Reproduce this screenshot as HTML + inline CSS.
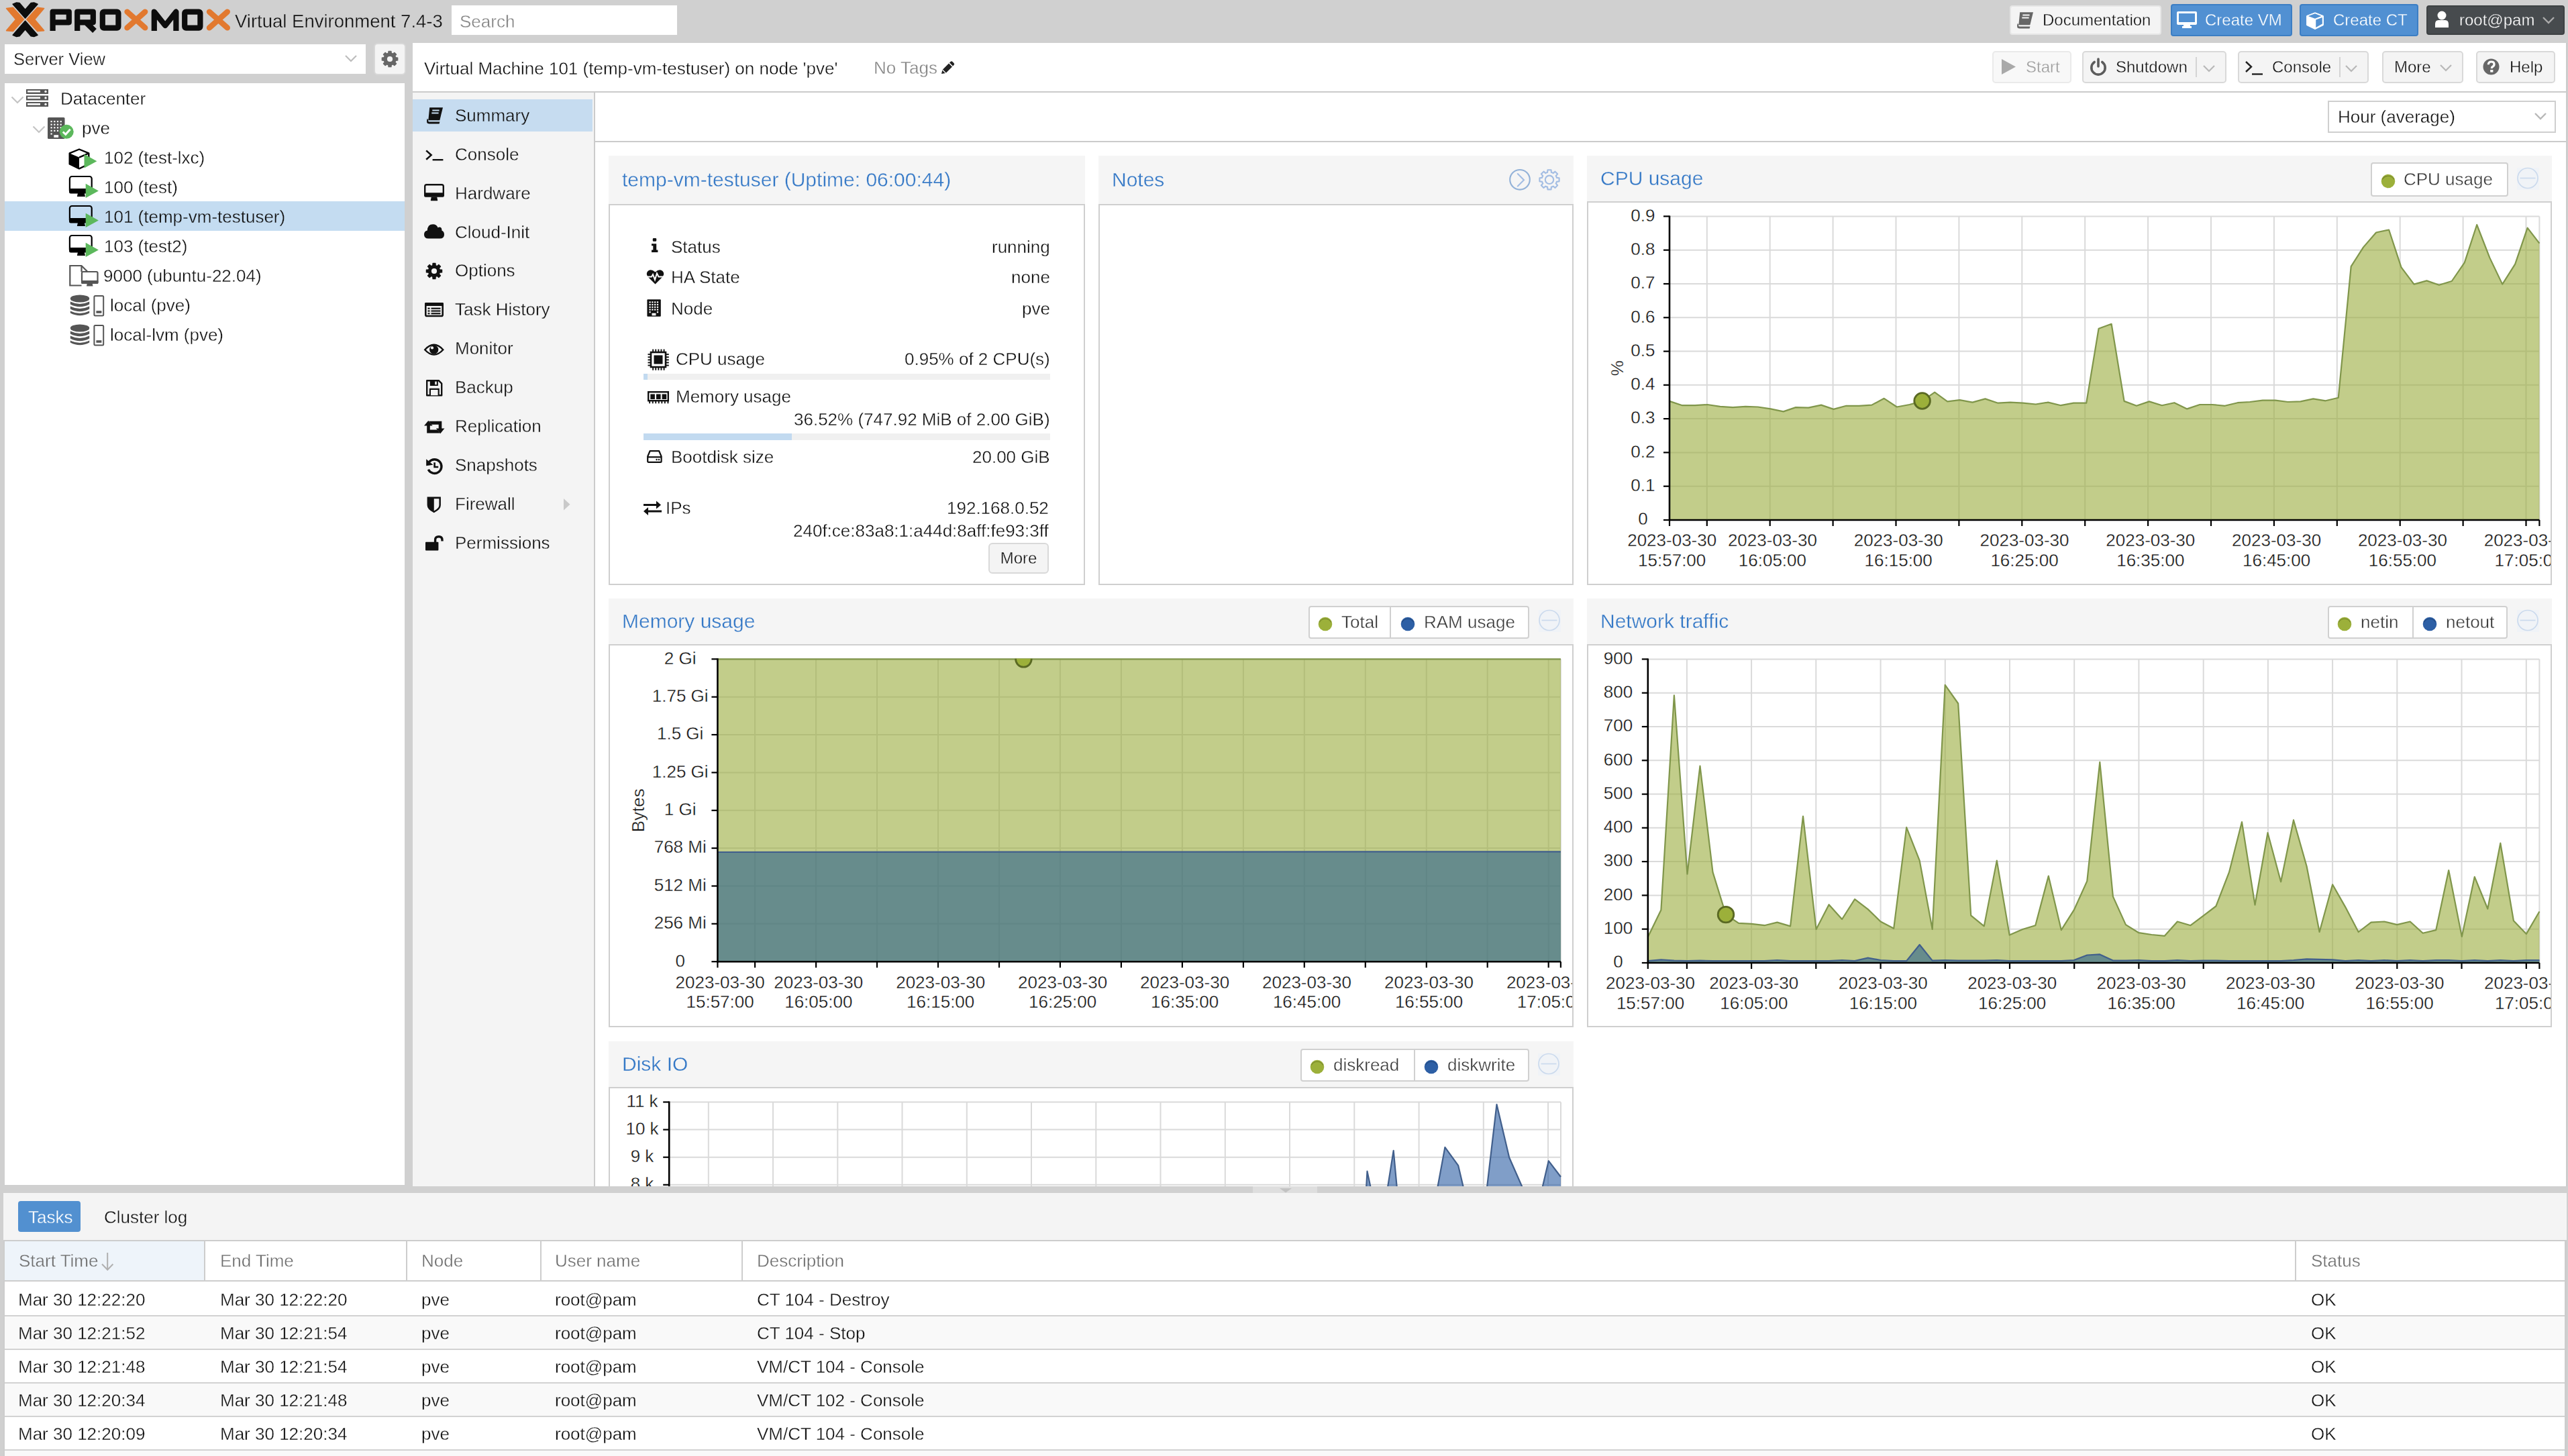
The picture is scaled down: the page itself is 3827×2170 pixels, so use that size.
<!DOCTYPE html><html><head><meta charset="utf-8"><title>Proxmox VE</title><style>
html,body{margin:0;padding:0}
body{width:3827px;height:2170px;overflow:hidden;position:relative;background:#d0d0d0;font-family:"Liberation Sans",sans-serif;font-size:26px;color:#000}
.a{position:absolute;box-sizing:border-box}
.t{position:absolute;white-space:nowrap;will-change:transform}
svg.a{overflow:visible}
</style></head><body>
<svg class="a" style="left:0px;top:0px;" width="350" height="62" viewBox="0 0 350 62">
<g stroke-linejoin="round" stroke-width="1.6">
<polygon points="9.6,12.6 19.4,11.4 35.3,28.9 19.4,46.5 9.6,45.6 23.6,29" fill="#e2792f" stroke="#e2792f"/>
<polygon points="65.6,12.6 55.8,11.4 39.9,28.9 55.8,46.5 65.6,45.6 51.6,29" fill="#e2792f" stroke="#e2792f"/>
<polygon points="19.2,6.2 24.6,4 29,4.6 37.6,14.6 46.2,4.6 50.6,4 56,6.2 37.6,27" fill="#0d0d0d" stroke="#0d0d0d"/>
<polygon points="19.2,52.2 24.6,54.4 29,53.8 37.6,43.8 46.2,53.8 50.6,54.4 56,52.2 37.6,31.4" fill="#0d0d0d" stroke="#0d0d0d"/>
</g>
<g fill="none" stroke="#0d0d0d" stroke-width="8.2" stroke-linejoin="round">
<path d="M78.6,46 V17.6 H102.8 V33.3 H78.6"/>
<path d="M115.2,46 V17.6 H138.8 V33.3 H115.2 M128,33.3 L141,46"/>
<rect x="152.8" y="17.6" width="23.6" height="24" rx="2"/>
<path d="M229.8,46 V17.6 L246.2,38 L262.4,17.6 V46"/>
<rect x="275.2" y="17.6" width="23.2" height="24" rx="2"/>
</g>
<g fill="none" stroke="#e2792f" stroke-width="8.4" stroke-linecap="round">
<path d="M189.5,17.6 L216.2,41.4 M216.2,17.6 L189.5,41.4"/>
<path d="M312,17.6 L338.8,41.4 M338.8,17.6 L312,41.4"/>
</g>
</svg>
<div class="t" style="left:350px;top:17.7px;font-size:27.5px;line-height:27.5px;color:#111;-webkit-text-stroke:0.35px #d0d0d0;">Virtual Environment 7.4-3</div>
<div class="a" style="left:673px;top:8px;width:336px;height:44px;background:#fff"></div>
<div class="t" style="left:685px;top:19.0px;font-size:26px;line-height:26px;color:#858585;-webkit-text-stroke:0.35px #fff;">Search</div>
<div class="a" style="left:2995px;top:8px;width:226px;height:44px;background:#f4f4f4;border:2px solid #e6e6e6;border-radius:4px"></div>
<svg class="a" style="left:3003.5px;top:17.5px;" width="27" height="25" viewBox="0 0 27 25"><path d="M6.2,0.3 H26 L21.3,19.2 H4.3 Z" fill="#666"/><path d="M2.7,16.8 Q0.3,24.6 5.7,24.6 H20.6 L21.4,21.6 H5.8 Q3.6,21.6 4.3,18.6 Z" fill="#666"/><path d="M10.3,4.6 H20.6 M9.3,8.6 H19.6" stroke="#f4f4f4" stroke-width="2"/></svg>
<div class="t" style="left:3044px;top:17.7px;font-size:24px;line-height:24px;color:#111;-webkit-text-stroke:0.35px #f4f4f4;">Documentation</div>
<div class="a" style="left:3235px;top:6px;width:181px;height:48px;background:#5190d2;border:2px solid #3c7ec4;border-radius:4px"></div>
<svg class="a" style="left:3243px;top:15px;" width="32" height="28" viewBox="0 0 32 28"><path d="M3,2 H29 Q31,2 31,4 V20 Q31,22 29,22 H3 Q1,22 1,20 V4 Q1,2 3,2 Z M4,5 V18 H28 V5 Z" fill="#fff"/>
<rect x="11" y="22" width="10" height="3" fill="#fff"/><rect x="9" y="24" width="14" height="3" fill="#fff"/></svg>
<div class="t" style="left:3286px;top:17.7px;font-size:24px;line-height:24px;color:#fff;-webkit-text-stroke:0.35px #5190d2;">Create VM</div>
<div class="a" style="left:3427px;top:6px;width:177px;height:48px;background:#5190d2;border:2px solid #3c7ec4;border-radius:4px"></div>
<svg class="a" style="left:3437px;top:18px;" width="27" height="27" viewBox="0 0 27 27"><path d="M13,0.8 L25.4,5.6 V19.6 L13,25.6 L0.6,19.6 V5.6 Z" fill="#fff" stroke="#fff" stroke-width="1" stroke-linejoin="round"/><path d="M2.8,6 L13,2.25 L22.3,6 L13,9.75 Z" fill="#5190d2"/><path d="M14.25,11.5 L23.7,8.1 L23.9,17.6 L14.25,23 Z" fill="#5190d2"/></svg>
<div class="t" style="left:3477px;top:17.7px;font-size:24px;line-height:24px;color:#fff;-webkit-text-stroke:0.35px #5190d2;">Create CT</div>
<div class="a" style="left:3616px;top:8px;width:206px;height:44px;background:#474b4e;border:2px solid #3d4143;border-radius:4px"></div>
<svg class="a" style="left:3628px;top:15px;" width="24" height="28" viewBox="0 0 24 28"><circle cx="11" cy="8" r="6.5" fill="#fff"/><path d="M1,26 V21 Q1,15 6,15 H16 Q21,15 21,21 V26 Z" fill="#fff"/></svg>
<div class="t" style="left:3665px;top:17.7px;font-size:24px;line-height:24px;color:#fff;-webkit-text-stroke:0.35px #474b4e;">root@pam</div>
<svg class="a" style="left:3788px;top:24px;" width="20" height="12" viewBox="0 0 20 12"><path d="M2,2 L10,10 L18,2" stroke="#aaa" stroke-width="2.4" fill="none"/></svg>
<div class="a" style="left:7px;top:66px;width:538px;height:44px;background:#fff"></div>
<div class="t" style="left:20px;top:76.4px;font-size:25.5px;line-height:25.5px;color:#111;-webkit-text-stroke:0.35px #fff;">Server View</div>
<svg class="a" style="left:513px;top:81px;" width="20" height="13" viewBox="0 0 20 13"><path d="M2,2 L10,10 L18,2" stroke="#bdbdbd" stroke-width="2.2" fill="none"/></svg>
<div class="a" style="left:557px;top:64px;width:48px;height:48px;background:#f4f4f4;border:2px solid #d8d8d8;border-radius:6px"></div>
<svg class="a" style="left:559px;top:65px;" width="44" height="45" viewBox="0 0 44 45"><polygon points="19.62,14.42 20.04,11.26 23.96,11.26 24.38,14.42 25.47,14.61 26.38,15.25 28.91,13.31 31.69,16.09 29.75,18.62 30.39,19.53 30.58,20.62 33.74,21.04 33.74,24.96 30.58,25.38 30.39,26.47 29.75,27.38 31.69,29.91 28.91,32.69 26.38,30.75 25.47,31.39 24.38,31.58 23.96,34.74 20.04,34.74 19.62,31.58 18.53,31.39 17.62,30.75 15.09,32.69 12.31,29.91 14.25,27.38 13.61,26.47 13.42,25.38 10.26,24.96 10.26,21.04 13.42,20.62 13.61,19.53 14.25,18.62 12.31,16.09 15.09,13.31 17.62,15.25 18.53,14.61" fill="#666" stroke="#666" stroke-width="1.2" stroke-linejoin="round"/><circle cx="22" cy="23" r="4.1" fill="#f4f4f4"/></svg>
<div class="a" style="left:7px;top:124px;width:596px;height:1642px;background:#fff"></div>
<div class="a" style="left:7px;top:300px;width:596px;height:44px;background:#c4dcf1"></div>
<svg class="a" style="left:16px;top:143px;" width="20" height="12" viewBox="0 0 20 12"><path d="M1.5,1.5 L10,10 L18.5,1.5" stroke="#c4c4c4" stroke-width="2.2" fill="none"/></svg>
<svg class="a" style="left:39px;top:133px;" width="34" height="27" viewBox="0 0 34 27"><g fill="#555"><rect x="0" y="0" width="33" height="7"/><rect x="0" y="9.5" width="33" height="7"/><rect x="0" y="19" width="33" height="7"/></g>
<g fill="#fff"><rect x="2" y="2" width="19" height="2.6"/><rect x="2" y="11.5" width="19" height="2.6"/><rect x="2" y="21" width="19" height="2.6"/>
<circle cx="29" cy="3.4" r="1.7"/><circle cx="29" cy="12.9" r="1.7"/><circle cx="29" cy="22.4" r="1.7"/></g></svg>
<div class="t" style="left:90px;top:133.6px;font-size:26px;line-height:26px;color:#111;-webkit-text-stroke:0.35px #fff;">Datacenter</div>
<svg class="a" style="left:48px;top:187px;" width="20" height="12" viewBox="0 0 20 12"><path d="M1.5,1.5 L10,10 L18.5,1.5" stroke="#c4c4c4" stroke-width="2.2" fill="none"/></svg>
<svg class="a" style="left:71px;top:175px;" width="40" height="34" viewBox="0 0 40 34"><rect x="0" y="0" width="25.5" height="32" rx="1.5" fill="#555"/><rect x="4.5" y="5.0" width="2.2" height="2.2" fill="#fff"/><rect x="9.2" y="5.0" width="2.2" height="2.2" fill="#fff"/><rect x="13.9" y="5.0" width="2.2" height="2.2" fill="#fff"/><rect x="18.6" y="5.0" width="2.2" height="2.2" fill="#fff"/><rect x="4.5" y="9.6" width="2.2" height="2.2" fill="#fff"/><rect x="9.2" y="9.6" width="2.2" height="2.2" fill="#fff"/><rect x="13.9" y="9.6" width="2.2" height="2.2" fill="#fff"/><rect x="18.6" y="9.6" width="2.2" height="2.2" fill="#fff"/><rect x="4.5" y="14.2" width="2.2" height="2.2" fill="#fff"/><rect x="9.2" y="14.2" width="2.2" height="2.2" fill="#fff"/><rect x="13.9" y="14.2" width="2.2" height="2.2" fill="#fff"/><rect x="18.6" y="14.2" width="2.2" height="2.2" fill="#fff"/><rect x="4.5" y="18.8" width="2.2" height="2.2" fill="#fff"/><rect x="9.2" y="18.8" width="2.2" height="2.2" fill="#fff"/><rect x="13.9" y="18.8" width="2.2" height="2.2" fill="#fff"/><rect x="18.6" y="18.8" width="2.2" height="2.2" fill="#fff"/><rect x="4.5" y="23.4" width="2.2" height="2.2" fill="#fff"/>
<rect x="9.3" y="26.2" width="6.8" height="3.7" fill="#fff"/>
<circle cx="28.2" cy="21.3" r="10.5" fill="#5cb85c"/>
<path d="M22.8,21.5 L26.8,25.3 L33.6,17.8" stroke="#fff" stroke-width="3" fill="none"/></svg>
<div class="t" style="left:122px;top:177.6px;font-size:26px;line-height:26px;color:#111;-webkit-text-stroke:0.35px #fff;">pve</div>
<svg class="a" style="left:102px;top:221px;" width="46" height="32" viewBox="0 0 46 32"><path d="M16,1.5 L30.3,7.4 V23.5 L16,30.3 L1.7,23.5 V7.4 Z" fill="#fff" stroke="#000" stroke-width="2.4" stroke-linejoin="round"/>
<path d="M16,13.6 L1.7,7.4 V23.5 L16,30.3 Z" fill="#000"/>
<path d="M16,13.6 L30.3,7.4" stroke="#000" stroke-width="2.4"/>
<path d="M23.5,8.8 L42.4,19.2 L23.5,29.6 Z" fill="#5cb85c"/></svg>
<div class="t" style="left:155px;top:221.6px;font-size:26px;line-height:26px;color:#111;-webkit-text-stroke:0.35px #fff;">102 (test-lxc)</div>
<svg class="a" style="left:102px;top:262px;" width="46" height="34" viewBox="0 0 46 34"><rect x="1.9" y="1" width="32.8" height="24" rx="3.2" fill="none" stroke="#000" stroke-width="2.2"/>
<rect x="1" y="19" width="34.6" height="7.5" rx="2.5" fill="#000"/>
<path d="M14,26 H23.8 L25,31 H12.8 Z" fill="#000"/>
<path d="M25.7,11.8 L44.9,22.4 L25.7,33 Z" fill="#5cb85c"/></svg>
<div class="t" style="left:155px;top:265.6px;font-size:26px;line-height:26px;color:#111;-webkit-text-stroke:0.35px #fff;">100 (test)</div>
<svg class="a" style="left:102px;top:306px;" width="46" height="34" viewBox="0 0 46 34"><rect x="1.9" y="1" width="32.8" height="24" rx="3.2" fill="none" stroke="#000" stroke-width="2.2"/>
<rect x="1" y="19" width="34.6" height="7.5" rx="2.5" fill="#000"/>
<path d="M14,26 H23.8 L25,31 H12.8 Z" fill="#000"/>
<path d="M25.7,11.8 L44.9,22.4 L25.7,33 Z" fill="#5cb85c"/></svg>
<div class="t" style="left:155px;top:309.6px;font-size:26px;line-height:26px;color:#111;-webkit-text-stroke:0.35px #c4dcf1;">101 (temp-vm-testuser)</div>
<svg class="a" style="left:102px;top:350px;" width="46" height="34" viewBox="0 0 46 34"><rect x="1.9" y="1" width="32.8" height="24" rx="3.2" fill="none" stroke="#000" stroke-width="2.2"/>
<rect x="1" y="19" width="34.6" height="7.5" rx="2.5" fill="#000"/>
<path d="M14,26 H23.8 L25,31 H12.8 Z" fill="#000"/>
<path d="M25.7,11.8 L44.9,22.4 L25.7,33 Z" fill="#5cb85c"/></svg>
<div class="t" style="left:155px;top:353.6px;font-size:26px;line-height:26px;color:#111;-webkit-text-stroke:0.35px #fff;">103 (test2)</div>
<svg class="a" style="left:102px;top:394px;" width="46" height="34" viewBox="0 0 46 34"><path d="M19.5,31.5 H2.3 V2 H19.5 L28,10.5" fill="none" stroke="#555" stroke-width="2.2"/>
<path d="M19.5,2 V11" stroke="#555" stroke-width="2.2"/>
<rect x="20" y="11" width="23.5" height="17" rx="1.8" fill="#fff" stroke="#555" stroke-width="2.2"/>
<rect x="19.2" y="24" width="25.2" height="5" rx="1.2" fill="#555"/>
<path d="M27.6,29 H35.8 L36.5,32.5 H27 Z" fill="#555"/></svg>
<div class="t" style="left:153.5px;top:397.6px;font-size:26px;line-height:26px;color:#111;-webkit-text-stroke:0.35px #fff;">9000 (ubuntu-22.04)</div>
<svg class="a" style="left:104px;top:439px;" width="52" height="34" viewBox="0 0 52 34"><g fill="#555">
<ellipse cx="15" cy="6" rx="14.2" ry="5.6"/>
<path d="M0.8,10.6 Q15,17.5 29.2,10.6 V14.5 Q15,22 0.8,14.5 Z"/>
<path d="M0.8,17.5 Q15,24.5 29.2,17.5 V21.5 Q15,29 0.8,21.5 Z"/>
<path d="M0.8,24.5 Q15,31.5 29.2,24.5 V27.5 Q15,35 0.8,27.5 Z"/>
</g>
<rect x="36.4" y="1.9" width="13.8" height="29.5" rx="1.5" fill="none" stroke="#555" stroke-width="2"/>
<rect x="39.4" y="24.2" width="8" height="3.6" fill="#555"/></svg>
<div class="t" style="left:163.5px;top:441.6px;font-size:26px;line-height:26px;color:#111;-webkit-text-stroke:0.35px #fff;">local (pve)</div>
<svg class="a" style="left:104px;top:483px;" width="52" height="34" viewBox="0 0 52 34"><g fill="#555">
<ellipse cx="15" cy="6" rx="14.2" ry="5.6"/>
<path d="M0.8,10.6 Q15,17.5 29.2,10.6 V14.5 Q15,22 0.8,14.5 Z"/>
<path d="M0.8,17.5 Q15,24.5 29.2,17.5 V21.5 Q15,29 0.8,21.5 Z"/>
<path d="M0.8,24.5 Q15,31.5 29.2,24.5 V27.5 Q15,35 0.8,27.5 Z"/>
</g>
<rect x="36.4" y="1.9" width="13.8" height="29.5" rx="1.5" fill="none" stroke="#555" stroke-width="2"/>
<rect x="39.4" y="24.2" width="8" height="3.6" fill="#555"/></svg>
<div class="t" style="left:163.5px;top:485.6px;font-size:26px;line-height:26px;color:#111;-webkit-text-stroke:0.35px #fff;">local-lvm (pve)</div>
<div class="a" style="left:615px;top:64px;width:3211px;height:1704px;background:#fff"></div>
<div class="a" style="left:615px;top:136px;width:3211px;height:2px;background:#cbcbcb"></div>
<div class="a" style="left:3824px;top:64px;width:2px;height:1704px;background:#cbcbcb"></div>
<div class="t" style="left:631.5px;top:89.0px;font-size:26px;line-height:26px;color:#111;-webkit-text-stroke:0.35px #fff;">Virtual Machine 101 (temp-vm-testuser) on node 'pve'</div>
<div class="t" style="left:1301.5px;top:88.2px;font-size:26px;line-height:26px;color:#858585;-webkit-text-stroke:0.35px #fff;">No Tags</div>
<svg class="a" style="left:1400px;top:89px;" width="24" height="24" viewBox="0 0 24 24"><path d="M3,21 L4.5,15 L16.5,3 Q18,1.5 19.5,3 L21.5,5 Q23,6.5 21.5,8 L9.5,20 Z" fill="#222"/><path d="M14.5,5 L19.5,10" stroke="#fff" stroke-width="1.6"/><path d="M4.5,15 L9.5,20" stroke="#fff" stroke-width="1.2"/></svg>
<div class="a" style="left:2969px;top:76px;width:118px;height:47.5px;background:#f4f4f4;border:2px solid #d9d9d9;border-radius:5px;opacity:.55;"></div>
<svg class="a" style="left:2981px;top:87px;" width="26" height="26" viewBox="0 0 26 26"><path d="M2,1 L23,12.5 L2,24 Z" fill="#a9a9a9"/></svg>
<div class="t" style="left:3019px;top:87.7px;font-size:24px;line-height:24px;color:#9d9d9d;-webkit-text-stroke:0.35px #f4f4f4;">Start</div>
<div class="a" style="left:3103px;top:76px;width:215px;height:47.5px;background:#f4f4f4;border:2px solid #d9d9d9;border-radius:5px;"></div>
<svg class="a" style="left:3113px;top:86px;" width="28" height="28" viewBox="0 0 28 28"><path d="M8.2,6.5 A10.2,10.2 0 1 0 19.8,6.5" fill="none" stroke="#5c5c5c" stroke-width="3.6" stroke-linecap="round"/><path d="M14,2 V13" stroke="#5c5c5c" stroke-width="3.6" stroke-linecap="round"/></svg>
<div class="t" style="left:3153px;top:87.7px;font-size:24px;line-height:24px;color:#111;-webkit-text-stroke:0.35px #f4f4f4;">Shutdown</div>
<div class="a" style="left:3272px;top:85px;width:2px;height:30px;background:#d4d4d4"></div>
<svg class="a" style="left:3282px;top:96px;" width="20" height="12" viewBox="0 0 20 12"><path d="M2,2 L10,10 L18,2" stroke="#b8b8b8" stroke-width="2.2" fill="none"/></svg>
<div class="a" style="left:3335px;top:76px;width:195px;height:47.5px;background:#f4f4f4;border:2px solid #d9d9d9;border-radius:5px;"></div>
<svg class="a" style="left:3345px;top:89px;" width="30" height="24" viewBox="0 0 30 24"><path d="M2,3 L10,10.5 L2,18" fill="none" stroke="#222" stroke-width="2.4"/><path d="M11,21.5 H27" stroke="#222" stroke-width="2.4"/></svg>
<div class="t" style="left:3386px;top:87.7px;font-size:24px;line-height:24px;color:#111;-webkit-text-stroke:0.35px #f4f4f4;">Console</div>
<div class="a" style="left:3486px;top:85px;width:2px;height:30px;background:#d4d4d4"></div>
<svg class="a" style="left:3494px;top:96px;" width="20" height="12" viewBox="0 0 20 12"><path d="M2,2 L10,10 L18,2" stroke="#b8b8b8" stroke-width="2.2" fill="none"/></svg>
<div class="a" style="left:3550px;top:76px;width:121px;height:47.5px;background:#f4f4f4;border:2px solid #d9d9d9;border-radius:5px;"></div>
<div class="t" style="left:3568px;top:87.7px;font-size:24px;line-height:24px;color:#111;-webkit-text-stroke:0.35px #f4f4f4;">More</div>
<svg class="a" style="left:3635px;top:95px;" width="20" height="12" viewBox="0 0 20 12"><path d="M2,2 L10,10 L18,2" stroke="#b8b8b8" stroke-width="2.2" fill="none"/></svg>
<div class="a" style="left:3689.5px;top:76px;width:118.0px;height:47.5px;background:#f4f4f4;border:2px solid #d9d9d9;border-radius:5px;"></div>
<svg class="a" style="left:3700px;top:87px;" width="26" height="26" viewBox="0 0 26 26"><circle cx="12.5" cy="12.5" r="12" fill="#666"/><path d="M8.3,9.3 Q8.5,5 12.7,5 Q17,5 17,8.8 Q17,11.3 14.5,12.5 Q13.3,13.2 13.3,15" fill="none" stroke="#fff" stroke-width="3.2"/><rect x="11.2" y="17" width="4.2" height="3.6" fill="#fff"/></svg>
<div class="t" style="left:3740px;top:87.7px;font-size:24px;line-height:24px;color:#111;-webkit-text-stroke:0.35px #f4f4f4;">Help</div>
<div class="a" style="left:615px;top:138px;width:270px;height:1630px;background:#f4f4f4"></div>
<div class="a" style="left:885px;top:138px;width:2px;height:1630px;background:#cbcbcb"></div>
<div class="a" style="left:615px;top:148px;width:268px;height:48px;background:#c6dcf0"></div>
<div class="t" style="left:677.5px;top:158.8px;font-size:26px;line-height:26px;color:#111;-webkit-text-stroke:0.35px #c6dcf0;">Summary</div>
<svg class="a" style="left:634px;top:159.8px;" width="27" height="25" viewBox="0 0 27 25"><path d="M6.2,0.3 H26 L21.3,19.2 H4.3 Z" fill="#111"/><path d="M2.7,16.8 Q0.3,24.6 5.7,24.6 H20.6 L21.4,21.6 H5.8 Q3.6,21.6 4.3,18.6 Z" fill="#111"/><path d="M10.3,4.6 H20.6 M9.3,8.6 H19.6" stroke="#c6dcf0" stroke-width="2"/></svg>
<div class="t" style="left:677.5px;top:216.7px;font-size:26px;line-height:26px;color:#111;-webkit-text-stroke:0.35px #f4f4f4;">Console</div>
<svg class="a" style="left:634px;top:223.1px;" width="28" height="17" viewBox="0 0 28 17"><path d="M1.2,1.4 L8.6,8.1 L1.2,14.8" fill="none" stroke="#111" stroke-width="2.6"/><path d="M10.6,15.2 H26.4" stroke="#111" stroke-width="2.4"/></svg>
<div class="t" style="left:677.5px;top:274.6px;font-size:26px;line-height:26px;color:#111;-webkit-text-stroke:0.35px #f4f4f4;">Hardware</div>
<svg class="a" style="left:632px;top:274.3px;" width="30" height="26" viewBox="0 0 30 26"><rect x="1.2" y="1.2" width="27.6" height="16" rx="2.6" fill="none" stroke="#111" stroke-width="2.4"/><rect x="0" y="13.2" width="30" height="6.6" rx="2.2" fill="#111"/><path d="M10.8,19.6 H19.2 L20.2,24.6 Q20.2,25.2 19.6,25.2 H10.4 Q9.8,25.2 9.8,24.6 Z" fill="#111"/></svg>
<div class="t" style="left:677.5px;top:332.5px;font-size:26px;line-height:26px;color:#111;-webkit-text-stroke:0.35px #f4f4f4;">Cloud-Init</div>
<svg class="a" style="left:632px;top:334.1px;" width="30" height="22" viewBox="0 0 30 22"><path d="M6.5,21.5 Q0,21.5 0,15.5 Q0,10.6 4.8,9.6 Q5.2,0.2 13.2,0.2 Q18.6,0.2 20.6,5.2 Q22,4.3 23.6,4.6 Q26.6,5.4 26.4,9.4 Q30,11 30,15.5 Q30,21.5 23.5,21.5 Z" fill="#111"/></svg>
<div class="t" style="left:677.5px;top:390.4px;font-size:26px;line-height:26px;color:#111;-webkit-text-stroke:0.35px #f4f4f4;">Options</div>
<svg class="a" style="left:635px;top:391.59999999999997px;" width="24" height="24" viewBox="0 0 24 24"><polygon points="9.76,3.91 10.05,0.36 13.95,0.36 14.24,3.91 15.28,4.08 16.14,4.69 18.85,2.39 21.61,5.15 19.31,7.86 19.92,8.72 20.09,9.76 23.64,10.05 23.64,13.95 20.09,14.24 19.92,15.28 19.31,16.14 21.61,18.85 18.85,21.61 16.14,19.31 15.28,19.92 14.24,20.09 13.95,23.64 10.05,23.64 9.76,20.09 8.72,19.92 7.86,19.31 5.15,21.61 2.39,18.85 4.69,16.14 4.08,15.28 3.91,14.24 0.36,13.95 0.36,10.05 3.91,9.76 4.08,8.72 4.69,7.86 2.39,5.15 5.15,2.39 7.86,4.69 8.72,4.08" fill="#111" stroke="#111" stroke-width="1.2" stroke-linejoin="round"/><circle cx="12" cy="12" r="4.1" fill="#f4f4f4"/></svg>
<div class="t" style="left:677.5px;top:448.3px;font-size:26px;line-height:26px;color:#111;-webkit-text-stroke:0.35px #f4f4f4;">Task History</div>
<svg class="a" style="left:633px;top:450.5px;" width="28" height="21.3" viewBox="0 0 28 21.3"><rect x="1.3" y="1.3" width="25.4" height="18.7" rx="1.8" fill="none" stroke="#111" stroke-width="2.6"/><rect x="0" y="0" width="28" height="5" rx="1.5" fill="#111"/><g fill="#111"><rect x="4.5" y="7.6" width="3" height="2.2"/><rect x="9.5" y="7.6" width="14" height="2.2"/><rect x="4.5" y="11.4" width="3" height="2.2"/><rect x="9.5" y="11.4" width="14" height="2.2"/><rect x="4.5" y="15.2" width="3" height="2.2"/><rect x="9.5" y="15.2" width="14" height="2.2"/></g></svg>
<div class="t" style="left:677.5px;top:506.2px;font-size:26px;line-height:26px;color:#111;-webkit-text-stroke:0.35px #f4f4f4;">Monitor</div>
<svg class="a" style="left:632px;top:513.2px;" width="29.5" height="16.5" viewBox="0 0 29.5 16.5"><path d="M1.2,8.2 Q14.7,-6.6 28.3,8.2 Q14.7,23 1.2,8.2 Z" fill="none" stroke="#111" stroke-width="2.4"/><circle cx="14.7" cy="8.2" r="6.6" fill="#111"/><circle cx="12" cy="5.4" r="2.1" fill="#f4f4f4"/></svg>
<div class="t" style="left:677.5px;top:564.1px;font-size:26px;line-height:26px;color:#111;-webkit-text-stroke:0.35px #f4f4f4;">Backup</div>
<svg class="a" style="left:635px;top:566.1px;" width="24.5" height="24.4" viewBox="0 0 24.5 24.4"><path d="M1.2,1.2 H18.8 L23.2,5.6 V23.2 H1.2 Z" fill="none" stroke="#111" stroke-width="2.4" stroke-linejoin="round"/><rect x="5.8" y="1" width="12" height="8" fill="#111"/><rect x="13.2" y="2.6" width="2.6" height="4.6" fill="#f4f4f4"/><rect x="4.8" y="12.8" width="15" height="10.6" fill="#111"/><rect x="7" y="15" width="10.6" height="8.2" fill="#f4f4f4"/></svg>
<div class="t" style="left:677.5px;top:622.0px;font-size:26px;line-height:26px;color:#111;-webkit-text-stroke:0.35px #f4f4f4;">Replication</div>
<svg class="a" style="left:632px;top:627.2px;" width="30.5" height="19.5" viewBox="0 0 30.5 19.5"><path d="M0,7.6 L6.3,0 L12.6,7.6 H8.8 V13.4 H19.8 L23.6,18.6 H4.2 V7.6 Z" fill="#111"/><path d="M30.5,11.6 L24.2,19.2 L17.9,11.6 H21.7 V5.8 H10.8 L7,0.8 H26.3 V11.6 Z" fill="#111"/></svg>
<div class="t" style="left:677.5px;top:679.9px;font-size:26px;line-height:26px;color:#111;-webkit-text-stroke:0.35px #f4f4f4;">Snapshots</div>
<svg class="a" style="left:635px;top:682.5px;" width="24.5" height="23.5" viewBox="0 0 24.5 23.5"><path d="M4.6,5.4 A10.4,10.4 0 1 1 3.3,16.8" fill="none" stroke="#111" stroke-width="3.4"/><path d="M0.2,1.2 L10.4,9.8 L0.2,11.2 Z" fill="#111"/><path d="M12.6,6.2 V13 H18.2" fill="none" stroke="#111" stroke-width="2.6"/></svg>
<div class="t" style="left:677.5px;top:737.8px;font-size:26px;line-height:26px;color:#111;-webkit-text-stroke:0.35px #f4f4f4;">Firewall</div>
<svg class="a" style="left:636px;top:740.0px;" width="21.5" height="24.5" viewBox="0 0 21.5 24.5"><path d="M0.6,0.6 H20.9 V13 Q20.9,19.2 10.75,24.2 Q0.6,19.2 0.6,13 Z" fill="#111"/><path d="M10.75,3.2 H18.4 V13 Q18.4,17.6 10.75,21.4 Z" fill="#f4f4f4"/></svg>
<svg class="a" style="left:839px;top:742.3px;" width="12" height="20" viewBox="0 0 12 20"><path d="M1,1 L10.5,9.8 L1,18.6 Z" fill="#c9c9c9"/></svg>
<div class="t" style="left:677.5px;top:795.7px;font-size:26px;line-height:26px;color:#111;-webkit-text-stroke:0.35px #f4f4f4;">Permissions</div>
<svg class="a" style="left:634px;top:798.1px;" width="26.5" height="22.5" viewBox="0 0 26.5 22.5"><rect x="0" y="9.8" width="19.4" height="12.6" rx="1" fill="#111"/><path d="M14.6,10.2 V6.8 Q14.6,1.7 20,1.7 Q25,1.7 25,6.8 V8.6" fill="none" stroke="#111" stroke-width="3.4"/></svg>
<div class="a" style="left:887px;top:210px;width:2937px;height:2px;background:#cbcbcb"></div>
<div class="a" style="left:3469px;top:149.5px;width:340px;height:48px;background:#fff;border:2px solid #cfcfcf"></div>
<div class="t" style="left:3484px;top:161.0px;font-size:26px;line-height:26px;color:#111;-webkit-text-stroke:0.35px #fff;">Hour (average)</div>
<svg class="a" style="left:3776px;top:167px;" width="20" height="12" viewBox="0 0 20 12"><path d="M2,2 L10,10 L18,2" stroke="#b8b8b8" stroke-width="2.4" fill="none"/></svg>
<div class="a" style="left:907px;top:232px;width:710px;height:72px;background:#f5f5f5"></div>
<div class="a" style="left:907px;top:304px;width:710px;height:568px;background:#fff;border:2px solid #cfcfcf"></div>
<div class="t" style="left:927px;top:252.6px;font-size:30px;line-height:30px;color:#3478c6;-webkit-text-stroke:0.35px #f5f5f5;">temp-vm-testuser (Uptime: 06:00:44)</div>
<div class="t" style="left:999.5px;top:354.5px;font-size:26px;line-height:26px;color:#111;-webkit-text-stroke:0.35px #fff;">Status</div>
<div class="t" style="right:2262.5px;top:354.5px;font-size:26px;line-height:26px;color:#111;-webkit-text-stroke:0.35px #fff;">running</div>
<div class="t" style="left:999.5px;top:399.8px;font-size:26px;line-height:26px;color:#111;-webkit-text-stroke:0.35px #fff;">HA State</div>
<div class="t" style="right:2262.5px;top:399.8px;font-size:26px;line-height:26px;color:#111;-webkit-text-stroke:0.35px #fff;">none</div>
<div class="t" style="left:999.5px;top:446.5px;font-size:26px;line-height:26px;color:#111;-webkit-text-stroke:0.35px #fff;">Node</div>
<div class="t" style="right:2262.5px;top:446.5px;font-size:26px;line-height:26px;color:#111;-webkit-text-stroke:0.35px #fff;">pve</div>
<svg class="a" style="left:971px;top:355px;" width="10" height="22" viewBox="0 0 10 22"><rect x="1.8" y="0" width="5.4" height="4.8" rx="1.2" fill="#111"/><path d="M0,8.2 H7.2 V17.6 H9.4 V21 H0 V17.6 H2.3 V11.2 H0 Z" fill="#111"/></svg>
<svg class="a" style="left:963px;top:401px;" width="28" height="24" viewBox="0 0 28 24"><path d="M13.5,22.5 L2.5,11.5 Q-1,7 2.5,3 Q7,-1 13.5,4.5 Q20,-1 24.5,3 Q28,7 24.5,11.5 Z" fill="#111"/><path d="M1,11.5 H8 L10,8 L13,16 L16,6.5 L18.5,11.5 H26" fill="none" stroke="#fff" stroke-width="2"/></svg>
<svg class="a" style="left:964px;top:445.5px;" width="22" height="27" viewBox="0 0 22 27"><rect x="0.4" y="0.3" width="20.4" height="25.5" rx="1" fill="#111"/><rect x="3.5" y="3.3" width="2.2" height="2.2" fill="#fff"/><rect x="7.3" y="3.3" width="2.2" height="2.2" fill="#fff"/><rect x="11.1" y="3.3" width="2.2" height="2.2" fill="#fff"/><rect x="14.9" y="3.3" width="2.2" height="2.2" fill="#fff"/><rect x="3.5" y="7.0" width="2.2" height="2.2" fill="#fff"/><rect x="7.3" y="7.0" width="2.2" height="2.2" fill="#fff"/><rect x="11.1" y="7.0" width="2.2" height="2.2" fill="#fff"/><rect x="14.9" y="7.0" width="2.2" height="2.2" fill="#fff"/><rect x="3.5" y="10.7" width="2.2" height="2.2" fill="#fff"/><rect x="7.3" y="10.7" width="2.2" height="2.2" fill="#fff"/><rect x="11.1" y="10.7" width="2.2" height="2.2" fill="#fff"/><rect x="14.9" y="10.7" width="2.2" height="2.2" fill="#fff"/><rect x="3.5" y="14.4" width="2.2" height="2.2" fill="#fff"/><rect x="7.3" y="14.4" width="2.2" height="2.2" fill="#fff"/><rect x="11.1" y="14.4" width="2.2" height="2.2" fill="#fff"/><rect x="14.9" y="14.4" width="2.2" height="2.2" fill="#fff"/><rect x="3.5" y="18.1" width="2.2" height="2.2" fill="#fff"/><rect x="14.9" y="18.1" width="2.2" height="2.2" fill="#fff"/><rect x="7.5" y="20.7" width="6" height="3.6" fill="#fff"/></svg>
<div class="t" style="left:1006.5px;top:522.0px;font-size:26px;line-height:26px;color:#111;-webkit-text-stroke:0.35px #fff;">CPU usage</div>
<div class="t" style="right:2262.5px;top:522.0px;font-size:26px;line-height:26px;color:#111;-webkit-text-stroke:0.35px #fff;">0.95% of 2 CPU(s)</div>
<svg class="a" style="left:965px;top:519.5px;" width="33" height="33" viewBox="0 0 33 33"><rect x="5" y="5" width="22" height="22" fill="none" stroke="#111" stroke-width="2.6"/><rect x="9.5" y="9.5" width="13" height="13" fill="#111"/><rect x="7.2" y="0.5" width="1.9" height="4.5" fill="#111"/><rect x="7.2" y="27" width="1.9" height="4.8" fill="#111"/><rect x="0.5" y="7.2" width="4.5" height="1.9" fill="#111"/><rect x="27" y="7.2" width="4.8" height="1.9" fill="#111"/><rect x="11.3" y="0.5" width="1.9" height="4.5" fill="#111"/><rect x="11.3" y="27" width="1.9" height="4.8" fill="#111"/><rect x="0.5" y="11.3" width="4.5" height="1.9" fill="#111"/><rect x="27" y="11.3" width="4.8" height="1.9" fill="#111"/><rect x="15.4" y="0.5" width="1.9" height="4.5" fill="#111"/><rect x="15.4" y="27" width="1.9" height="4.8" fill="#111"/><rect x="0.5" y="15.4" width="4.5" height="1.9" fill="#111"/><rect x="27" y="15.4" width="4.8" height="1.9" fill="#111"/><rect x="19.5" y="0.5" width="1.9" height="4.5" fill="#111"/><rect x="19.5" y="27" width="1.9" height="4.8" fill="#111"/><rect x="0.5" y="19.5" width="4.5" height="1.9" fill="#111"/><rect x="27" y="19.5" width="4.8" height="1.9" fill="#111"/><rect x="23.6" y="0.5" width="1.9" height="4.5" fill="#111"/><rect x="23.6" y="27" width="1.9" height="4.8" fill="#111"/><rect x="0.5" y="23.6" width="4.5" height="1.9" fill="#111"/><rect x="27" y="23.6" width="4.8" height="1.9" fill="#111"/></svg>
<div class="a" style="left:959px;top:556.5px;width:606px;height:9.5px;background:#f0f0f0"></div>
<div class="a" style="left:959px;top:556.5px;width:6px;height:9.5px;background:#c2daf0"></div>
<div class="t" style="left:1006.5px;top:578.0px;font-size:26px;line-height:26px;color:#111;-webkit-text-stroke:0.35px #fff;">Memory usage</div>
<div class="t" style="right:2262.5px;top:611.5px;font-size:26px;line-height:26px;color:#111;-webkit-text-stroke:0.35px #fff;">36.52% (747.92 MiB of 2.00 GiB)</div>
<svg class="a" style="left:965px;top:582.5px;" width="33" height="19" viewBox="0 0 33 19"><rect x="1.2" y="1.2" width="29.6" height="13" fill="none" stroke="#111" stroke-width="2.4"/><g fill="#111"><rect x="4.3" y="4.4" width="6.6" height="7.6"/><rect x="13" y="4.4" width="6.6" height="7.6"/><rect x="21.6" y="4.4" width="6.6" height="7.6"/></g><rect x="2.2" y="14" width="1.9" height="4.3" fill="#111"/><rect x="6.8" y="14" width="1.9" height="4.3" fill="#111"/><rect x="11.3" y="14" width="1.9" height="4.3" fill="#111"/><rect x="15.8" y="14" width="1.9" height="4.3" fill="#111"/><rect x="20.4" y="14" width="1.9" height="4.3" fill="#111"/><rect x="24.9" y="14" width="1.9" height="4.3" fill="#111"/><rect x="29.5" y="14" width="1.9" height="4.3" fill="#111"/></svg>
<div class="a" style="left:959px;top:646px;width:606px;height:9.5px;background:#f0f0f0"></div>
<div class="a" style="left:959px;top:646px;width:221px;height:9.5px;background:#c2daf0"></div>
<div class="t" style="left:999.5px;top:667.8px;font-size:26px;line-height:26px;color:#111;-webkit-text-stroke:0.35px #fff;">Bootdisk size</div>
<div class="t" style="right:2262.5px;top:667.8px;font-size:26px;line-height:26px;color:#111;-webkit-text-stroke:0.35px #fff;">20.00 GiB</div>
<svg class="a" style="left:964.2px;top:671px;" width="24" height="20" viewBox="0 0 24 20"><path d="M4.6,1.2 H18.2 L21.6,9.2 V16.4 Q21.6,17.8 20.2,17.8 H2.6 Q1.2,17.8 1.2,16.4 V9.2 Z" fill="none" stroke="#111" stroke-width="2.2" stroke-linejoin="round"/><path d="M1.2,10.2 H21.6" stroke="#111" stroke-width="2.2"/><circle cx="14.6" cy="14" r="1.2" fill="#111"/><circle cx="18" cy="14" r="1.2" fill="#111"/></svg>
<div class="t" style="left:992px;top:743.6px;font-size:26px;line-height:26px;color:#111;-webkit-text-stroke:0.35px #fff;">IPs</div>
<div class="t" style="right:2264px;top:743.6px;font-size:26px;line-height:26px;color:#111;-webkit-text-stroke:0.35px #fff;">192.168.0.52</div>
<div class="t" style="right:2264px;top:777.6px;font-size:26px;line-height:26px;color:#111;-webkit-text-stroke:0.35px #fff;">240f:ce:83a8:1:a44d:8aff:fe93:3ff</div>
<svg class="a" style="left:958px;top:745px;" width="30" height="24" viewBox="0 0 30 24"><path d="M1,7.5 H22" stroke="#111" stroke-width="3"/><path d="M20,1.5 L27,7.5 L20,13.5 Z" fill="#111"/><path d="M6,17 H28" stroke="#111" stroke-width="3"/><path d="M8,11 L1,17 L8,23 Z" fill="#111"/></svg>
<div class="a" style="left:1473.3px;top:808.8px;width:89.4px;height:46.6px;background:#f4f4f4;border:2px solid #d9d9d9;border-radius:6px"></div>
<div class="t" style="left:1518px;transform:translateX(-50%);top:820.2px;font-size:24px;line-height:24px;color:#111;-webkit-text-stroke:0.35px #f4f4f4;">More</div>
<div class="a" style="left:1637px;top:232px;width:708px;height:72px;background:#f5f5f5"></div>
<div class="a" style="left:1637px;top:304px;width:708px;height:568px;background:#fff;border:2px solid #cfcfcf"></div>
<div class="t" style="left:1657px;top:252.6px;font-size:30px;line-height:30px;color:#3478c6;-webkit-text-stroke:0.35px #f5f5f5;">Notes</div>
<svg class="a" style="left:2248px;top:251px;" width="34" height="34" viewBox="0 0 34 34"><circle cx="17" cy="16.8" r="14.8" fill="none" stroke="#93b2d8" stroke-width="2.1"/><path d="M13.8,8 L23,17.2 L13.8,26.4" fill="none" stroke="#a3bde3" stroke-width="2.1" stroke-linecap="round"/></svg>
<svg class="a" style="left:2292px;top:251px;" width="34" height="34" viewBox="0 0 34 34"><polygon points="14.10,5.98 14.43,2.22 19.57,2.22 19.90,5.98 21.37,6.25 22.60,7.10 25.49,4.68 29.12,8.31 26.70,11.20 27.55,12.43 27.82,13.90 31.58,14.23 31.58,19.37 27.82,19.70 27.55,21.17 26.70,22.40 29.12,25.29 25.49,28.92 22.60,26.50 21.37,27.35 19.90,27.62 19.57,31.38 14.43,31.38 14.10,27.62 12.63,27.35 11.40,26.50 8.51,28.92 4.88,25.29 7.30,22.40 6.45,21.17 6.18,19.70 2.42,19.37 2.42,14.23 6.18,13.90 6.45,12.43 7.30,11.20 4.88,8.31 8.51,4.68 11.40,7.10 12.63,6.25" fill="none" stroke="#a3bde3" stroke-width="2.1" stroke-linejoin="round"/><circle cx="17" cy="16.8" r="6.2" fill="none" stroke="#a3bde3" stroke-width="2.1"/></svg>
<div class="a" style="left:2365px;top:232px;width:1438px;height:68px;background:#f5f5f5"></div>
<div class="a" style="left:2365px;top:300px;width:1438px;height:572px;background:#fff;border:2px solid #cfcfcf"></div>
<div class="t" style="left:2385px;top:250.6px;font-size:30px;line-height:30px;color:#3478c6;-webkit-text-stroke:0.35px #f5f5f5;">CPU usage</div>
<div class="a" style="left:3533px;top:242px;width:205px;height:50.5px;background:#fff;border:2px solid #d0d0d0;border-radius:4px"></div>
<svg class="a" style="left:3547.6px;top:258.75px;" width="22" height="22" viewBox="0 0 22 22"><circle cx="11" cy="11" r="10.3" fill="#9cb03a"/><path d="M2.2,8.5 A10,10 0 0 1 19.8,8.5" fill="none" stroke="rgba(0,0,0,0.25)" stroke-width="1.2"/></svg>
<div class="t" style="left:3582px;top:254.2px;font-size:26px;line-height:26px;color:#3a3a3a;-webkit-text-stroke:0.35px #fff;">CPU usage</div>
<svg class="a" style="left:3751px;top:250px;" width="34" height="34" viewBox="0 0 34 34"><rect x="0" y="0" width="33" height="33" fill="#f0f3f7"/><circle cx="16" cy="15.5" r="15" fill="none" stroke="#cbdaed" stroke-width="1.7"/><path d="M4.5,15.5 H27.5" stroke="#cbdaed" stroke-width="1.7"/></svg>
<svg class="a" style="left:2367px;top:302px;overflow:hidden" width="1434" height="568" viewBox="0 0 1434 568" font-family="Liberation Sans" font-size="26" fill="#111" stroke="none"><line x1="121.0" y1="473.0" x2="1417.4" y2="473.0" stroke="#dadada" stroke-width="2"/>
<line x1="121.0" y1="422.7" x2="1417.4" y2="422.7" stroke="#dadada" stroke-width="2"/>
<line x1="121.0" y1="372.4" x2="1417.4" y2="372.4" stroke="#dadada" stroke-width="2"/>
<line x1="121.0" y1="322.1" x2="1417.4" y2="322.1" stroke="#dadada" stroke-width="2"/>
<line x1="121.0" y1="271.8" x2="1417.4" y2="271.8" stroke="#dadada" stroke-width="2"/>
<line x1="121.0" y1="221.6" x2="1417.4" y2="221.6" stroke="#dadada" stroke-width="2"/>
<line x1="121.0" y1="171.3" x2="1417.4" y2="171.3" stroke="#dadada" stroke-width="2"/>
<line x1="121.0" y1="121.0" x2="1417.4" y2="121.0" stroke="#dadada" stroke-width="2"/>
<line x1="121.0" y1="70.7" x2="1417.4" y2="70.7" stroke="#dadada" stroke-width="2"/>
<line x1="121.0" y1="20.4" x2="1417.4" y2="20.4" stroke="#dadada" stroke-width="2"/>
<line x1="176.8" y1="20.4" x2="176.8" y2="473.0" stroke="#dadada" stroke-width="2"/>
<line x1="270.7" y1="20.4" x2="270.7" y2="473.0" stroke="#dadada" stroke-width="2"/>
<line x1="364.6" y1="20.4" x2="364.6" y2="473.0" stroke="#dadada" stroke-width="2"/>
<line x1="458.5" y1="20.4" x2="458.5" y2="473.0" stroke="#dadada" stroke-width="2"/>
<line x1="552.4" y1="20.4" x2="552.4" y2="473.0" stroke="#dadada" stroke-width="2"/>
<line x1="646.3" y1="20.4" x2="646.3" y2="473.0" stroke="#dadada" stroke-width="2"/>
<line x1="740.2" y1="20.4" x2="740.2" y2="473.0" stroke="#dadada" stroke-width="2"/>
<line x1="834.1" y1="20.4" x2="834.1" y2="473.0" stroke="#dadada" stroke-width="2"/>
<line x1="928.0" y1="20.4" x2="928.0" y2="473.0" stroke="#dadada" stroke-width="2"/>
<line x1="1021.9" y1="20.4" x2="1021.9" y2="473.0" stroke="#dadada" stroke-width="2"/>
<line x1="1115.8" y1="20.4" x2="1115.8" y2="473.0" stroke="#dadada" stroke-width="2"/>
<line x1="1209.7" y1="20.4" x2="1209.7" y2="473.0" stroke="#dadada" stroke-width="2"/>
<line x1="1303.6" y1="20.4" x2="1303.6" y2="473.0" stroke="#dadada" stroke-width="2"/>
<line x1="1397.5" y1="20.4" x2="1397.5" y2="473.0" stroke="#dadada" stroke-width="2"/>
<line x1="1417.4" y1="20.4" x2="1417.4" y2="473.0" stroke="#dadada" stroke-width="2"/>
<polygon points="121.0,473.0 121.0,295.9 140.0,302.2 159.0,302.2 177.4,301.0 196.4,303.9 215.4,305.1 234.3,303.9 252.7,304.5 271.7,307.4 290.7,311.4 309.1,305.1 328.1,305.6 347.1,301.6 365.5,307.9 384.4,302.8 403.4,302.8 422.4,301.6 440.8,291.8 459.8,304.5 478.8,301.0 497.2,295.9 516.2,282.6 535.1,296.4 553.5,294.1 572.5,297.6 591.5,292.4 610.5,298.7 628.9,297.6 647.9,298.7 666.8,300.5 685.2,297.6 704.2,302.2 723.2,298.7 742.2,298.7 760.6,187.7 779.6,180.8 798.6,295.9 817.0,302.8 835.9,296.4 854.9,302.2 873.3,298.2 892.3,307.4 911.3,301.0 929.7,301.0 948.7,302.8 967.6,298.2 986.0,297.0 1005.0,294.7 1024.0,294.7 1042.4,297.0 1061.4,296.4 1080.4,292.4 1098.8,295.3 1117.8,290.7 1136.7,95.1 1155.1,66.4 1174.1,44.5 1193.1,40.5 1211.5,96.3 1230.5,121.6 1249.5,116.4 1267.9,122.8 1286.8,117.0 1305.8,89.4 1324.2,33.0 1343.2,81.9 1362.2,121.6 1381.2,91.7 1399.6,37.6 1417.4,60.6 1417.4,473.0" fill="rgba(153,172,60,0.6)"/>
<polyline points="121.0,295.9 140.0,302.2 159.0,302.2 177.4,301.0 196.4,303.9 215.4,305.1 234.3,303.9 252.7,304.5 271.7,307.4 290.7,311.4 309.1,305.1 328.1,305.6 347.1,301.6 365.5,307.9 384.4,302.8 403.4,302.8 422.4,301.6 440.8,291.8 459.8,304.5 478.8,301.0 497.2,295.9 516.2,282.6 535.1,296.4 553.5,294.1 572.5,297.6 591.5,292.4 610.5,298.7 628.9,297.6 647.9,298.7 666.8,300.5 685.2,297.6 704.2,302.2 723.2,298.7 742.2,298.7 760.6,187.7 779.6,180.8 798.6,295.9 817.0,302.8 835.9,296.4 854.9,302.2 873.3,298.2 892.3,307.4 911.3,301.0 929.7,301.0 948.7,302.8 967.6,298.2 986.0,297.0 1005.0,294.7 1024.0,294.7 1042.4,297.0 1061.4,296.4 1080.4,292.4 1098.8,295.3 1117.8,290.7 1136.7,95.1 1155.1,66.4 1174.1,44.5 1193.1,40.5 1211.5,96.3 1230.5,121.6 1249.5,116.4 1267.9,122.8 1286.8,117.0 1305.8,89.4 1324.2,33.0 1343.2,81.9 1362.2,121.6 1381.2,91.7 1399.6,37.6 1417.4,60.6" fill="none" stroke="#80964b" stroke-width="2.2" stroke-linejoin="round"/>
<line x1="121.0" y1="19.4" x2="121.0" y2="474.2" stroke="#000" stroke-width="2.6"/>
<line x1="120.0" y1="473.0" x2="1417.4" y2="473.0" stroke="#000" stroke-width="2.6"/>
<line x1="112.0" y1="473.0" x2="121.0" y2="473.0" stroke="#000" stroke-width="2.2"/>
<text x="81.4" y="480.3" text-anchor="middle" stroke="#fff" stroke-width="0.35">0</text>
<line x1="112.0" y1="422.7" x2="121.0" y2="422.7" stroke="#000" stroke-width="2.2"/>
<text x="81.4" y="430.0" text-anchor="middle" stroke="#fff" stroke-width="0.35">0.1</text>
<line x1="112.0" y1="372.4" x2="121.0" y2="372.4" stroke="#000" stroke-width="2.2"/>
<text x="81.4" y="379.7" text-anchor="middle" stroke="#fff" stroke-width="0.35">0.2</text>
<line x1="112.0" y1="322.1" x2="121.0" y2="322.1" stroke="#000" stroke-width="2.2"/>
<text x="81.4" y="329.4" text-anchor="middle" stroke="#fff" stroke-width="0.35">0.3</text>
<line x1="112.0" y1="271.8" x2="121.0" y2="271.8" stroke="#000" stroke-width="2.2"/>
<text x="81.4" y="279.1" text-anchor="middle" stroke="#fff" stroke-width="0.35">0.4</text>
<line x1="112.0" y1="221.6" x2="121.0" y2="221.6" stroke="#000" stroke-width="2.2"/>
<text x="81.4" y="228.9" text-anchor="middle" stroke="#fff" stroke-width="0.35">0.5</text>
<line x1="112.0" y1="171.3" x2="121.0" y2="171.3" stroke="#000" stroke-width="2.2"/>
<text x="81.4" y="178.6" text-anchor="middle" stroke="#fff" stroke-width="0.35">0.6</text>
<line x1="112.0" y1="121.0" x2="121.0" y2="121.0" stroke="#000" stroke-width="2.2"/>
<text x="81.4" y="128.3" text-anchor="middle" stroke="#fff" stroke-width="0.35">0.7</text>
<line x1="112.0" y1="70.7" x2="121.0" y2="70.7" stroke="#000" stroke-width="2.2"/>
<text x="81.4" y="78.0" text-anchor="middle" stroke="#fff" stroke-width="0.35">0.8</text>
<line x1="112.0" y1="20.4" x2="121.0" y2="20.4" stroke="#000" stroke-width="2.2"/>
<text x="81.4" y="27.7" text-anchor="middle" stroke="#fff" stroke-width="0.35">0.9</text>
<line x1="121.0" y1="473.0" x2="121.0" y2="482.0" stroke="#000" stroke-width="2.2"/>
<line x1="176.8" y1="473.0" x2="176.8" y2="482.0" stroke="#000" stroke-width="2.2"/>
<line x1="270.7" y1="473.0" x2="270.7" y2="482.0" stroke="#000" stroke-width="2.2"/>
<line x1="364.6" y1="473.0" x2="364.6" y2="482.0" stroke="#000" stroke-width="2.2"/>
<line x1="458.5" y1="473.0" x2="458.5" y2="482.0" stroke="#000" stroke-width="2.2"/>
<line x1="552.4" y1="473.0" x2="552.4" y2="482.0" stroke="#000" stroke-width="2.2"/>
<line x1="646.3" y1="473.0" x2="646.3" y2="482.0" stroke="#000" stroke-width="2.2"/>
<line x1="740.2" y1="473.0" x2="740.2" y2="482.0" stroke="#000" stroke-width="2.2"/>
<line x1="834.1" y1="473.0" x2="834.1" y2="482.0" stroke="#000" stroke-width="2.2"/>
<line x1="928.0" y1="473.0" x2="928.0" y2="482.0" stroke="#000" stroke-width="2.2"/>
<line x1="1021.9" y1="473.0" x2="1021.9" y2="482.0" stroke="#000" stroke-width="2.2"/>
<line x1="1115.8" y1="473.0" x2="1115.8" y2="482.0" stroke="#000" stroke-width="2.2"/>
<line x1="1209.7" y1="473.0" x2="1209.7" y2="482.0" stroke="#000" stroke-width="2.2"/>
<line x1="1303.6" y1="473.0" x2="1303.6" y2="482.0" stroke="#000" stroke-width="2.2"/>
<line x1="1397.5" y1="473.0" x2="1397.5" y2="482.0" stroke="#000" stroke-width="2.2"/>
<line x1="1417.4" y1="473.0" x2="1417.4" y2="482.0" stroke="#000" stroke-width="2.2"/>
<text x="124.7" y="512.3" text-anchor="middle" stroke="#fff" stroke-width="0.35">2023-03-30</text>
<text x="124.7" y="541.8" text-anchor="middle" stroke="#fff" stroke-width="0.35">15:57:00</text>
<text x="274.4" y="512.3" text-anchor="middle" stroke="#fff" stroke-width="0.35">2023-03-30</text>
<text x="274.4" y="541.8" text-anchor="middle" stroke="#fff" stroke-width="0.35">16:05:00</text>
<text x="462.2" y="512.3" text-anchor="middle" stroke="#fff" stroke-width="0.35">2023-03-30</text>
<text x="462.2" y="541.8" text-anchor="middle" stroke="#fff" stroke-width="0.35">16:15:00</text>
<text x="650.0" y="512.3" text-anchor="middle" stroke="#fff" stroke-width="0.35">2023-03-30</text>
<text x="650.0" y="541.8" text-anchor="middle" stroke="#fff" stroke-width="0.35">16:25:00</text>
<text x="837.8" y="512.3" text-anchor="middle" stroke="#fff" stroke-width="0.35">2023-03-30</text>
<text x="837.8" y="541.8" text-anchor="middle" stroke="#fff" stroke-width="0.35">16:35:00</text>
<text x="1025.6" y="512.3" text-anchor="middle" stroke="#fff" stroke-width="0.35">2023-03-30</text>
<text x="1025.6" y="541.8" text-anchor="middle" stroke="#fff" stroke-width="0.35">16:45:00</text>
<text x="1213.4" y="512.3" text-anchor="middle" stroke="#fff" stroke-width="0.35">2023-03-30</text>
<text x="1213.4" y="541.8" text-anchor="middle" stroke="#fff" stroke-width="0.35">16:55:00</text>
<text x="1401.2" y="512.3" text-anchor="middle" stroke="#fff" stroke-width="0.35">2023-03-30</text>
<text x="1401.2" y="541.8" text-anchor="middle" stroke="#fff" stroke-width="0.35">17:05:00</text>
<text transform="translate(52.0,246.7) rotate(-90)" text-anchor="middle" stroke="#fff" stroke-width="0.35">%</text>
<clipPath id="c2367_302"><rect x="121.0" y="19.9" width="1296.4" height="472.6"/></clipPath>
<circle clip-path="url(#c2367_302)" cx="497.6" cy="295.5" r="11.8" fill="#9cb03a" stroke="#5a6923" stroke-width="2.8"/>
</svg>
<div class="a" style="left:907px;top:892px;width:1438px;height:68px;background:#f5f5f5"></div>
<div class="a" style="left:907px;top:960px;width:1438px;height:571px;background:#fff;border:2px solid #cfcfcf"></div>
<div class="t" style="left:927px;top:910.6px;font-size:30px;line-height:30px;color:#3478c6;-webkit-text-stroke:0.35px #f5f5f5;">Memory usage</div>
<div class="a" style="left:1949.5px;top:902.7px;width:329.5px;height:49.5px;background:#fff;border:2px solid #d0d0d0;border-radius:4px"></div>
<div class="a" style="left:2071.3px;top:902.7px;width:2px;height:49.5px;background:#d0d0d0"></div>
<svg class="a" style="left:1963.5px;top:918.95px;" width="22" height="22" viewBox="0 0 22 22"><circle cx="11" cy="11" r="10.3" fill="#9cb03a"/><path d="M2.2,8.5 A10,10 0 0 1 19.8,8.5" fill="none" stroke="rgba(0,0,0,0.25)" stroke-width="1.2"/></svg>
<div class="t" style="left:1998.5px;top:914.4px;font-size:26px;line-height:26px;color:#3a3a3a;-webkit-text-stroke:0.35px #fff;">Total</div>
<svg class="a" style="left:2086.5px;top:918.95px;" width="22" height="22" viewBox="0 0 22 22"><circle cx="11" cy="11" r="10.3" fill="#2d5fa5"/><path d="M2.2,8.5 A10,10 0 0 1 19.8,8.5" fill="none" stroke="rgba(0,0,0,0.25)" stroke-width="1.2"/></svg>
<div class="t" style="left:2121.5px;top:914.4px;font-size:26px;line-height:26px;color:#3a3a3a;-webkit-text-stroke:0.35px #fff;">RAM usage</div>
<svg class="a" style="left:2293px;top:909px;" width="34" height="34" viewBox="0 0 34 34"><rect x="0" y="0" width="33" height="33" fill="#f0f3f7"/><circle cx="16" cy="15.5" r="15" fill="none" stroke="#cbdaed" stroke-width="1.7"/><path d="M4.5,15.5 H27.5" stroke="#cbdaed" stroke-width="1.7"/></svg>
<svg class="a" style="left:909px;top:962px;overflow:hidden" width="1434" height="567" viewBox="0 0 1434 567" font-family="Liberation Sans" font-size="26" fill="#111" stroke="none"><line x1="160.4" y1="471.2" x2="1416.9" y2="471.2" stroke="#dadada" stroke-width="2"/>
<line x1="160.4" y1="414.8" x2="1416.9" y2="414.8" stroke="#dadada" stroke-width="2"/>
<line x1="160.4" y1="358.5" x2="1416.9" y2="358.5" stroke="#dadada" stroke-width="2"/>
<line x1="160.4" y1="302.1" x2="1416.9" y2="302.1" stroke="#dadada" stroke-width="2"/>
<line x1="160.4" y1="245.8" x2="1416.9" y2="245.8" stroke="#dadada" stroke-width="2"/>
<line x1="160.4" y1="189.4" x2="1416.9" y2="189.4" stroke="#dadada" stroke-width="2"/>
<line x1="160.4" y1="133.0" x2="1416.9" y2="133.0" stroke="#dadada" stroke-width="2"/>
<line x1="160.4" y1="76.7" x2="1416.9" y2="76.7" stroke="#dadada" stroke-width="2"/>
<line x1="160.4" y1="20.3" x2="1416.9" y2="20.3" stroke="#dadada" stroke-width="2"/>
<line x1="216.1" y1="20.3" x2="216.1" y2="471.2" stroke="#dadada" stroke-width="2"/>
<line x1="307.1" y1="20.3" x2="307.1" y2="471.2" stroke="#dadada" stroke-width="2"/>
<line x1="398.0" y1="20.3" x2="398.0" y2="471.2" stroke="#dadada" stroke-width="2"/>
<line x1="489.0" y1="20.3" x2="489.0" y2="471.2" stroke="#dadada" stroke-width="2"/>
<line x1="580.0" y1="20.3" x2="580.0" y2="471.2" stroke="#dadada" stroke-width="2"/>
<line x1="670.9" y1="20.3" x2="670.9" y2="471.2" stroke="#dadada" stroke-width="2"/>
<line x1="761.9" y1="20.3" x2="761.9" y2="471.2" stroke="#dadada" stroke-width="2"/>
<line x1="852.9" y1="20.3" x2="852.9" y2="471.2" stroke="#dadada" stroke-width="2"/>
<line x1="943.9" y1="20.3" x2="943.9" y2="471.2" stroke="#dadada" stroke-width="2"/>
<line x1="1034.8" y1="20.3" x2="1034.8" y2="471.2" stroke="#dadada" stroke-width="2"/>
<line x1="1125.8" y1="20.3" x2="1125.8" y2="471.2" stroke="#dadada" stroke-width="2"/>
<line x1="1216.8" y1="20.3" x2="1216.8" y2="471.2" stroke="#dadada" stroke-width="2"/>
<line x1="1307.7" y1="20.3" x2="1307.7" y2="471.2" stroke="#dadada" stroke-width="2"/>
<line x1="1398.7" y1="20.3" x2="1398.7" y2="471.2" stroke="#dadada" stroke-width="2"/>
<line x1="1416.9" y1="20.3" x2="1416.9" y2="471.2" stroke="#dadada" stroke-width="2"/>
<polygon points="160.4,471.2 160.4,20.3 1416.9,20.3 1416.9,471.2" fill="rgba(153,172,60,0.6)"/>
<polyline points="160.4,20.3 1416.9,20.3" fill="none" stroke="#80964b" stroke-width="2.2" stroke-linejoin="round"/>
<polygon points="160.4,471.2 160.4,308.0 791.0,307.6 1416.9,307.3 1416.9,471.2" fill="rgba(41,97,141,0.6)"/>
<polyline points="160.4,308.0 791.0,307.6 1416.9,307.3" fill="none" stroke="#415f8c" stroke-width="2.2" stroke-linejoin="round"/>
<line x1="160.4" y1="19.3" x2="160.4" y2="472.4" stroke="#000" stroke-width="2.6"/>
<line x1="159.4" y1="471.2" x2="1416.9" y2="471.2" stroke="#000" stroke-width="2.6"/>
<line x1="151.4" y1="471.2" x2="160.4" y2="471.2" stroke="#000" stroke-width="2.2"/>
<text x="104.7" y="478.5" text-anchor="middle" stroke="#fff" stroke-width="0.35">0</text>
<line x1="151.4" y1="414.8" x2="160.4" y2="414.8" stroke="#000" stroke-width="2.2"/>
<text x="104.7" y="422.1" text-anchor="middle" stroke="#fff" stroke-width="0.35">256 Mi</text>
<line x1="151.4" y1="358.5" x2="160.4" y2="358.5" stroke="#000" stroke-width="2.2"/>
<text x="104.7" y="365.8" text-anchor="middle" stroke="#fff" stroke-width="0.35">512 Mi</text>
<line x1="151.4" y1="302.1" x2="160.4" y2="302.1" stroke="#000" stroke-width="2.2"/>
<text x="104.7" y="309.4" text-anchor="middle" stroke="#fff" stroke-width="0.35">768 Mi</text>
<line x1="151.4" y1="245.8" x2="160.4" y2="245.8" stroke="#000" stroke-width="2.2"/>
<text x="104.7" y="253.1" text-anchor="middle" stroke="#fff" stroke-width="0.35">1 Gi</text>
<line x1="151.4" y1="189.4" x2="160.4" y2="189.4" stroke="#000" stroke-width="2.2"/>
<text x="104.7" y="196.7" text-anchor="middle" stroke="#fff" stroke-width="0.35">1.25 Gi</text>
<line x1="151.4" y1="133.0" x2="160.4" y2="133.0" stroke="#000" stroke-width="2.2"/>
<text x="104.7" y="140.3" text-anchor="middle" stroke="#fff" stroke-width="0.35">1.5 Gi</text>
<line x1="151.4" y1="76.7" x2="160.4" y2="76.7" stroke="#000" stroke-width="2.2"/>
<text x="104.7" y="84.0" text-anchor="middle" stroke="#fff" stroke-width="0.35">1.75 Gi</text>
<line x1="151.4" y1="20.3" x2="160.4" y2="20.3" stroke="#000" stroke-width="2.2"/>
<text x="104.7" y="27.6" text-anchor="middle" stroke="#fff" stroke-width="0.35">2 Gi</text>
<line x1="160.4" y1="471.2" x2="160.4" y2="480.2" stroke="#000" stroke-width="2.2"/>
<line x1="216.1" y1="471.2" x2="216.1" y2="480.2" stroke="#000" stroke-width="2.2"/>
<line x1="307.1" y1="471.2" x2="307.1" y2="480.2" stroke="#000" stroke-width="2.2"/>
<line x1="398.0" y1="471.2" x2="398.0" y2="480.2" stroke="#000" stroke-width="2.2"/>
<line x1="489.0" y1="471.2" x2="489.0" y2="480.2" stroke="#000" stroke-width="2.2"/>
<line x1="580.0" y1="471.2" x2="580.0" y2="480.2" stroke="#000" stroke-width="2.2"/>
<line x1="670.9" y1="471.2" x2="670.9" y2="480.2" stroke="#000" stroke-width="2.2"/>
<line x1="761.9" y1="471.2" x2="761.9" y2="480.2" stroke="#000" stroke-width="2.2"/>
<line x1="852.9" y1="471.2" x2="852.9" y2="480.2" stroke="#000" stroke-width="2.2"/>
<line x1="943.9" y1="471.2" x2="943.9" y2="480.2" stroke="#000" stroke-width="2.2"/>
<line x1="1034.8" y1="471.2" x2="1034.8" y2="480.2" stroke="#000" stroke-width="2.2"/>
<line x1="1125.8" y1="471.2" x2="1125.8" y2="480.2" stroke="#000" stroke-width="2.2"/>
<line x1="1216.8" y1="471.2" x2="1216.8" y2="480.2" stroke="#000" stroke-width="2.2"/>
<line x1="1307.7" y1="471.2" x2="1307.7" y2="480.2" stroke="#000" stroke-width="2.2"/>
<line x1="1398.7" y1="471.2" x2="1398.7" y2="480.2" stroke="#000" stroke-width="2.2"/>
<line x1="1416.9" y1="471.2" x2="1416.9" y2="480.2" stroke="#000" stroke-width="2.2"/>
<text x="164.1" y="510.5" text-anchor="middle" stroke="#fff" stroke-width="0.35">2023-03-30</text>
<text x="164.1" y="540.0" text-anchor="middle" stroke="#fff" stroke-width="0.35">15:57:00</text>
<text x="310.8" y="510.5" text-anchor="middle" stroke="#fff" stroke-width="0.35">2023-03-30</text>
<text x="310.8" y="540.0" text-anchor="middle" stroke="#fff" stroke-width="0.35">16:05:00</text>
<text x="492.7" y="510.5" text-anchor="middle" stroke="#fff" stroke-width="0.35">2023-03-30</text>
<text x="492.7" y="540.0" text-anchor="middle" stroke="#fff" stroke-width="0.35">16:15:00</text>
<text x="674.6" y="510.5" text-anchor="middle" stroke="#fff" stroke-width="0.35">2023-03-30</text>
<text x="674.6" y="540.0" text-anchor="middle" stroke="#fff" stroke-width="0.35">16:25:00</text>
<text x="856.6" y="510.5" text-anchor="middle" stroke="#fff" stroke-width="0.35">2023-03-30</text>
<text x="856.6" y="540.0" text-anchor="middle" stroke="#fff" stroke-width="0.35">16:35:00</text>
<text x="1038.5" y="510.5" text-anchor="middle" stroke="#fff" stroke-width="0.35">2023-03-30</text>
<text x="1038.5" y="540.0" text-anchor="middle" stroke="#fff" stroke-width="0.35">16:45:00</text>
<text x="1220.5" y="510.5" text-anchor="middle" stroke="#fff" stroke-width="0.35">2023-03-30</text>
<text x="1220.5" y="540.0" text-anchor="middle" stroke="#fff" stroke-width="0.35">16:55:00</text>
<text x="1402.4" y="510.5" text-anchor="middle" stroke="#fff" stroke-width="0.35">2023-03-30</text>
<text x="1402.4" y="540.0" text-anchor="middle" stroke="#fff" stroke-width="0.35">17:05:00</text>
<text transform="translate(51.0,245.8) rotate(-90)" text-anchor="middle" stroke="#fff" stroke-width="0.35">Bytes</text>
<clipPath id="c909_962"><rect x="160.4" y="19.8" width="1256.5" height="470.9"/></clipPath>
<circle clip-path="url(#c909_962)" cx="616.4" cy="20.3" r="11.8" fill="#9cb03a" stroke="#5a6923" stroke-width="2.8"/>
</svg>
<div class="a" style="left:2365px;top:892px;width:1438px;height:68px;background:#f5f5f5"></div>
<div class="a" style="left:2365px;top:960px;width:1438px;height:571px;background:#fff;border:2px solid #cfcfcf"></div>
<div class="t" style="left:2385px;top:910.6px;font-size:30px;line-height:30px;color:#3478c6;-webkit-text-stroke:0.35px #f5f5f5;">Network traffic</div>
<div class="a" style="left:3469px;top:902.7px;width:268px;height:49.5px;background:#fff;border:2px solid #d0d0d0;border-radius:4px"></div>
<div class="a" style="left:3594.8px;top:902.7px;width:2px;height:49.5px;background:#d0d0d0"></div>
<svg class="a" style="left:3483px;top:918.95px;" width="22" height="22" viewBox="0 0 22 22"><circle cx="11" cy="11" r="10.3" fill="#9cb03a"/><path d="M2.2,8.5 A10,10 0 0 1 19.8,8.5" fill="none" stroke="rgba(0,0,0,0.25)" stroke-width="1.2"/></svg>
<div class="t" style="left:3518px;top:914.4px;font-size:26px;line-height:26px;color:#3a3a3a;-webkit-text-stroke:0.35px #fff;">netin</div>
<svg class="a" style="left:3609.5px;top:918.95px;" width="22" height="22" viewBox="0 0 22 22"><circle cx="11" cy="11" r="10.3" fill="#2d5fa5"/><path d="M2.2,8.5 A10,10 0 0 1 19.8,8.5" fill="none" stroke="rgba(0,0,0,0.25)" stroke-width="1.2"/></svg>
<div class="t" style="left:3644.5px;top:914.4px;font-size:26px;line-height:26px;color:#3a3a3a;-webkit-text-stroke:0.35px #fff;">netout</div>
<svg class="a" style="left:3751px;top:909px;" width="34" height="34" viewBox="0 0 34 34"><rect x="0" y="0" width="33" height="33" fill="#f0f3f7"/><circle cx="16" cy="15.5" r="15" fill="none" stroke="#cbdaed" stroke-width="1.7"/><path d="M4.5,15.5 H27.5" stroke="#cbdaed" stroke-width="1.7"/></svg>
<svg class="a" style="left:2367px;top:962px;overflow:hidden" width="1434" height="567" viewBox="0 0 1434 567" font-family="Liberation Sans" font-size="26" fill="#111" stroke="none"><line x1="88.8" y1="473.0" x2="1417.4" y2="473.0" stroke="#dadada" stroke-width="2"/>
<line x1="88.8" y1="422.7" x2="1417.4" y2="422.7" stroke="#dadada" stroke-width="2"/>
<line x1="88.8" y1="372.4" x2="1417.4" y2="372.4" stroke="#dadada" stroke-width="2"/>
<line x1="88.8" y1="322.1" x2="1417.4" y2="322.1" stroke="#dadada" stroke-width="2"/>
<line x1="88.8" y1="271.8" x2="1417.4" y2="271.8" stroke="#dadada" stroke-width="2"/>
<line x1="88.8" y1="221.6" x2="1417.4" y2="221.6" stroke="#dadada" stroke-width="2"/>
<line x1="88.8" y1="171.3" x2="1417.4" y2="171.3" stroke="#dadada" stroke-width="2"/>
<line x1="88.8" y1="121.0" x2="1417.4" y2="121.0" stroke="#dadada" stroke-width="2"/>
<line x1="88.8" y1="70.7" x2="1417.4" y2="70.7" stroke="#dadada" stroke-width="2"/>
<line x1="88.8" y1="20.4" x2="1417.4" y2="20.4" stroke="#dadada" stroke-width="2"/>
<line x1="146.9" y1="20.4" x2="146.9" y2="473.0" stroke="#dadada" stroke-width="2"/>
<line x1="243.1" y1="20.4" x2="243.1" y2="473.0" stroke="#dadada" stroke-width="2"/>
<line x1="339.3" y1="20.4" x2="339.3" y2="473.0" stroke="#dadada" stroke-width="2"/>
<line x1="435.6" y1="20.4" x2="435.6" y2="473.0" stroke="#dadada" stroke-width="2"/>
<line x1="531.8" y1="20.4" x2="531.8" y2="473.0" stroke="#dadada" stroke-width="2"/>
<line x1="628.0" y1="20.4" x2="628.0" y2="473.0" stroke="#dadada" stroke-width="2"/>
<line x1="724.2" y1="20.4" x2="724.2" y2="473.0" stroke="#dadada" stroke-width="2"/>
<line x1="820.4" y1="20.4" x2="820.4" y2="473.0" stroke="#dadada" stroke-width="2"/>
<line x1="916.7" y1="20.4" x2="916.7" y2="473.0" stroke="#dadada" stroke-width="2"/>
<line x1="1012.9" y1="20.4" x2="1012.9" y2="473.0" stroke="#dadada" stroke-width="2"/>
<line x1="1109.1" y1="20.4" x2="1109.1" y2="473.0" stroke="#dadada" stroke-width="2"/>
<line x1="1205.3" y1="20.4" x2="1205.3" y2="473.0" stroke="#dadada" stroke-width="2"/>
<line x1="1301.5" y1="20.4" x2="1301.5" y2="473.0" stroke="#dadada" stroke-width="2"/>
<line x1="1397.8" y1="20.4" x2="1397.8" y2="473.0" stroke="#dadada" stroke-width="2"/>
<line x1="1417.4" y1="20.4" x2="1417.4" y2="473.0" stroke="#dadada" stroke-width="2"/>
<polygon points="88.8,473.0 88.8,434.5 108.4,394.2 127.9,74.4 147.5,340.7 166.5,179.7 185.5,337.9 205.0,401.1 224.0,413.8 243.0,414.9 262.5,417.2 281.5,412.6 301.1,418.4 320.0,254.5 339.6,423.0 358.6,386.2 378.1,408.0 397.1,378.1 416.7,393.1 435.6,411.5 455.2,421.8 474.2,271.1 493.7,320.6 512.7,423.0 531.7,58.9 551.2,86.5 570.2,402.3 589.8,418.4 608.8,320.6 627.7,431.6 647.3,423.0 666.3,417.2 685.8,343.6 704.8,424.1 723.8,394.2 743.3,351.1 762.3,173.9 781.9,374.1 800.9,416.1 820.4,428.2 839.4,431.0 858.9,432.8 877.9,411.5 897.5,417.2 916.5,402.8 935.4,388.5 955.0,337.9 974.0,263.1 993.5,386.7 1012.5,279.2 1032.1,352.2 1051.0,260.2 1070.6,329.2 1089.6,427.0 1109.1,356.3 1128.1,389.6 1147.7,427.0 1166.6,412.6 1186.2,411.5 1205.2,416.1 1224.7,411.5 1243.7,428.7 1263.3,424.1 1282.2,335.0 1301.8,433.9 1320.8,344.8 1340.3,392.5 1359.3,294.7 1378.9,410.3 1397.9,429.9 1417.4,396.5 1417.4,473.0" fill="rgba(153,172,60,0.6)"/>
<polyline points="88.8,434.5 108.4,394.2 127.9,74.4 147.5,340.7 166.5,179.7 185.5,337.9 205.0,401.1 224.0,413.8 243.0,414.9 262.5,417.2 281.5,412.6 301.1,418.4 320.0,254.5 339.6,423.0 358.6,386.2 378.1,408.0 397.1,378.1 416.7,393.1 435.6,411.5 455.2,421.8 474.2,271.1 493.7,320.6 512.7,423.0 531.7,58.9 551.2,86.5 570.2,402.3 589.8,418.4 608.8,320.6 627.7,431.6 647.3,423.0 666.3,417.2 685.8,343.6 704.8,424.1 723.8,394.2 743.3,351.1 762.3,173.9 781.9,374.1 800.9,416.1 820.4,428.2 839.4,431.0 858.9,432.8 877.9,411.5 897.5,417.2 916.5,402.8 935.4,388.5 955.0,337.9 974.0,263.1 993.5,386.7 1012.5,279.2 1032.1,352.2 1051.0,260.2 1070.6,329.2 1089.6,427.0 1109.1,356.3 1128.1,389.6 1147.7,427.0 1166.6,412.6 1186.2,411.5 1205.2,416.1 1224.7,411.5 1243.7,428.7 1263.3,424.1 1282.2,335.0 1301.8,433.9 1320.8,344.8 1340.3,392.5 1359.3,294.7 1378.9,410.3 1397.9,429.9 1417.4,396.5" fill="none" stroke="#80964b" stroke-width="2.2" stroke-linejoin="round"/>
<polygon points="88.8,473.0 88.8,470.1 108.4,468.4 127.9,469.6 147.5,470.1 166.5,469.6 185.5,470.1 205.0,470.1 224.0,470.1 243.0,470.1 262.5,470.1 281.5,469.0 301.1,470.1 320.0,470.1 339.6,470.1 358.6,470.1 378.1,469.0 397.1,470.1 416.7,465.5 435.6,469.0 455.2,470.1 474.2,470.1 493.7,446.0 512.7,469.6 531.7,469.0 551.2,469.6 570.2,469.6 589.8,469.6 608.8,469.0 627.7,470.1 647.3,470.1 666.3,470.1 685.8,470.1 704.8,470.1 723.8,469.0 743.3,461.5 762.3,460.4 781.9,469.6 800.9,469.6 820.4,469.0 839.4,470.1 858.9,470.1 877.9,469.0 897.5,470.1 916.5,469.6 935.4,469.6 955.0,470.1 974.0,470.1 993.5,470.1 1012.5,470.1 1032.1,470.1 1051.0,469.0 1070.6,467.3 1089.6,467.8 1109.1,468.4 1128.1,470.1 1147.7,469.0 1166.6,470.1 1186.2,469.0 1205.2,470.1 1224.7,469.0 1243.7,470.1 1263.3,469.0 1282.2,469.0 1301.8,470.1 1320.8,469.0 1340.3,470.1 1359.3,469.0 1378.9,470.1 1397.9,469.0 1417.4,469.0 1417.4,473.0" fill="rgba(41,97,141,0.6)"/>
<polyline points="88.8,470.1 108.4,468.4 127.9,469.6 147.5,470.1 166.5,469.6 185.5,470.1 205.0,470.1 224.0,470.1 243.0,470.1 262.5,470.1 281.5,469.0 301.1,470.1 320.0,470.1 339.6,470.1 358.6,470.1 378.1,469.0 397.1,470.1 416.7,465.5 435.6,469.0 455.2,470.1 474.2,470.1 493.7,446.0 512.7,469.6 531.7,469.0 551.2,469.6 570.2,469.6 589.8,469.6 608.8,469.0 627.7,470.1 647.3,470.1 666.3,470.1 685.8,470.1 704.8,470.1 723.8,469.0 743.3,461.5 762.3,460.4 781.9,469.6 800.9,469.6 820.4,469.0 839.4,470.1 858.9,470.1 877.9,469.0 897.5,470.1 916.5,469.6 935.4,469.6 955.0,470.1 974.0,470.1 993.5,470.1 1012.5,470.1 1032.1,470.1 1051.0,469.0 1070.6,467.3 1089.6,467.8 1109.1,468.4 1128.1,470.1 1147.7,469.0 1166.6,470.1 1186.2,469.0 1205.2,470.1 1224.7,469.0 1243.7,470.1 1263.3,469.0 1282.2,469.0 1301.8,470.1 1320.8,469.0 1340.3,470.1 1359.3,469.0 1378.9,470.1 1397.9,469.0 1417.4,469.0" fill="none" stroke="#415f8c" stroke-width="2.2" stroke-linejoin="round"/>
<line x1="88.8" y1="19.4" x2="88.8" y2="474.2" stroke="#000" stroke-width="2.6"/>
<line x1="87.8" y1="473.0" x2="1417.4" y2="473.0" stroke="#000" stroke-width="2.6"/>
<line x1="79.8" y1="473.0" x2="88.8" y2="473.0" stroke="#000" stroke-width="2.2"/>
<text x="44.5" y="480.3" text-anchor="middle" stroke="#fff" stroke-width="0.35">0</text>
<line x1="79.8" y1="422.7" x2="88.8" y2="422.7" stroke="#000" stroke-width="2.2"/>
<text x="44.5" y="430.0" text-anchor="middle" stroke="#fff" stroke-width="0.35">100</text>
<line x1="79.8" y1="372.4" x2="88.8" y2="372.4" stroke="#000" stroke-width="2.2"/>
<text x="44.5" y="379.7" text-anchor="middle" stroke="#fff" stroke-width="0.35">200</text>
<line x1="79.8" y1="322.1" x2="88.8" y2="322.1" stroke="#000" stroke-width="2.2"/>
<text x="44.5" y="329.4" text-anchor="middle" stroke="#fff" stroke-width="0.35">300</text>
<line x1="79.8" y1="271.8" x2="88.8" y2="271.8" stroke="#000" stroke-width="2.2"/>
<text x="44.5" y="279.1" text-anchor="middle" stroke="#fff" stroke-width="0.35">400</text>
<line x1="79.8" y1="221.6" x2="88.8" y2="221.6" stroke="#000" stroke-width="2.2"/>
<text x="44.5" y="228.9" text-anchor="middle" stroke="#fff" stroke-width="0.35">500</text>
<line x1="79.8" y1="171.3" x2="88.8" y2="171.3" stroke="#000" stroke-width="2.2"/>
<text x="44.5" y="178.6" text-anchor="middle" stroke="#fff" stroke-width="0.35">600</text>
<line x1="79.8" y1="121.0" x2="88.8" y2="121.0" stroke="#000" stroke-width="2.2"/>
<text x="44.5" y="128.3" text-anchor="middle" stroke="#fff" stroke-width="0.35">700</text>
<line x1="79.8" y1="70.7" x2="88.8" y2="70.7" stroke="#000" stroke-width="2.2"/>
<text x="44.5" y="78.0" text-anchor="middle" stroke="#fff" stroke-width="0.35">800</text>
<line x1="79.8" y1="20.4" x2="88.8" y2="20.4" stroke="#000" stroke-width="2.2"/>
<text x="44.5" y="27.7" text-anchor="middle" stroke="#fff" stroke-width="0.35">900</text>
<line x1="88.8" y1="473.0" x2="88.8" y2="482.0" stroke="#000" stroke-width="2.2"/>
<line x1="146.9" y1="473.0" x2="146.9" y2="482.0" stroke="#000" stroke-width="2.2"/>
<line x1="243.1" y1="473.0" x2="243.1" y2="482.0" stroke="#000" stroke-width="2.2"/>
<line x1="339.3" y1="473.0" x2="339.3" y2="482.0" stroke="#000" stroke-width="2.2"/>
<line x1="435.6" y1="473.0" x2="435.6" y2="482.0" stroke="#000" stroke-width="2.2"/>
<line x1="531.8" y1="473.0" x2="531.8" y2="482.0" stroke="#000" stroke-width="2.2"/>
<line x1="628.0" y1="473.0" x2="628.0" y2="482.0" stroke="#000" stroke-width="2.2"/>
<line x1="724.2" y1="473.0" x2="724.2" y2="482.0" stroke="#000" stroke-width="2.2"/>
<line x1="820.4" y1="473.0" x2="820.4" y2="482.0" stroke="#000" stroke-width="2.2"/>
<line x1="916.7" y1="473.0" x2="916.7" y2="482.0" stroke="#000" stroke-width="2.2"/>
<line x1="1012.9" y1="473.0" x2="1012.9" y2="482.0" stroke="#000" stroke-width="2.2"/>
<line x1="1109.1" y1="473.0" x2="1109.1" y2="482.0" stroke="#000" stroke-width="2.2"/>
<line x1="1205.3" y1="473.0" x2="1205.3" y2="482.0" stroke="#000" stroke-width="2.2"/>
<line x1="1301.5" y1="473.0" x2="1301.5" y2="482.0" stroke="#000" stroke-width="2.2"/>
<line x1="1397.8" y1="473.0" x2="1397.8" y2="482.0" stroke="#000" stroke-width="2.2"/>
<line x1="1417.4" y1="473.0" x2="1417.4" y2="482.0" stroke="#000" stroke-width="2.2"/>
<text x="92.5" y="512.3" text-anchor="middle" stroke="#fff" stroke-width="0.35">2023-03-30</text>
<text x="92.5" y="541.8" text-anchor="middle" stroke="#fff" stroke-width="0.35">15:57:00</text>
<text x="246.8" y="512.3" text-anchor="middle" stroke="#fff" stroke-width="0.35">2023-03-30</text>
<text x="246.8" y="541.8" text-anchor="middle" stroke="#fff" stroke-width="0.35">16:05:00</text>
<text x="439.3" y="512.3" text-anchor="middle" stroke="#fff" stroke-width="0.35">2023-03-30</text>
<text x="439.3" y="541.8" text-anchor="middle" stroke="#fff" stroke-width="0.35">16:15:00</text>
<text x="631.7" y="512.3" text-anchor="middle" stroke="#fff" stroke-width="0.35">2023-03-30</text>
<text x="631.7" y="541.8" text-anchor="middle" stroke="#fff" stroke-width="0.35">16:25:00</text>
<text x="824.1" y="512.3" text-anchor="middle" stroke="#fff" stroke-width="0.35">2023-03-30</text>
<text x="824.1" y="541.8" text-anchor="middle" stroke="#fff" stroke-width="0.35">16:35:00</text>
<text x="1016.6" y="512.3" text-anchor="middle" stroke="#fff" stroke-width="0.35">2023-03-30</text>
<text x="1016.6" y="541.8" text-anchor="middle" stroke="#fff" stroke-width="0.35">16:45:00</text>
<text x="1209.0" y="512.3" text-anchor="middle" stroke="#fff" stroke-width="0.35">2023-03-30</text>
<text x="1209.0" y="541.8" text-anchor="middle" stroke="#fff" stroke-width="0.35">16:55:00</text>
<text x="1401.5" y="512.3" text-anchor="middle" stroke="#fff" stroke-width="0.35">2023-03-30</text>
<text x="1401.5" y="541.8" text-anchor="middle" stroke="#fff" stroke-width="0.35">17:05:00</text>
<text transform="translate(33.0,246.7) rotate(-90)" text-anchor="middle" stroke="#fff" stroke-width="0.35"></text>
<clipPath id="c2367_962"><rect x="88.8" y="19.9" width="1328.6" height="472.6"/></clipPath>
<circle clip-path="url(#c2367_962)" cx="205.0" cy="401.1" r="11.8" fill="#9cb03a" stroke="#5a6923" stroke-width="2.8"/>
</svg>
<div class="a" style="left:907px;top:1552px;width:1438px;height:68px;background:#f5f5f5"></div>
<div class="a" style="left:907px;top:1620px;width:1438px;height:180px;background:#fff;border:2px solid #cfcfcf"></div>
<div class="t" style="left:927px;top:1570.6px;font-size:30px;line-height:30px;color:#3478c6;-webkit-text-stroke:0.35px #f5f5f5;">Disk IO</div>
<div class="a" style="left:1937.7px;top:1562.6px;width:340.89999999999986px;height:49.100000000000136px;background:#fff;border:2px solid #d0d0d0;border-radius:4px"></div>
<div class="a" style="left:2107.2px;top:1562.6px;width:2px;height:49.100000000000136px;background:#d0d0d0"></div>
<svg class="a" style="left:1951.7px;top:1578.65px;" width="22" height="22" viewBox="0 0 22 22"><circle cx="11" cy="11" r="10.3" fill="#9cb03a"/><path d="M2.2,8.5 A10,10 0 0 1 19.8,8.5" fill="none" stroke="rgba(0,0,0,0.25)" stroke-width="1.2"/></svg>
<div class="t" style="left:1986.7px;top:1574.1px;font-size:26px;line-height:26px;color:#3a3a3a;-webkit-text-stroke:0.35px #fff;">diskread</div>
<svg class="a" style="left:2122px;top:1578.65px;" width="22" height="22" viewBox="0 0 22 22"><circle cx="11" cy="11" r="10.3" fill="#2d5fa5"/><path d="M2.2,8.5 A10,10 0 0 1 19.8,8.5" fill="none" stroke="rgba(0,0,0,0.25)" stroke-width="1.2"/></svg>
<div class="t" style="left:2157px;top:1574.1px;font-size:26px;line-height:26px;color:#3a3a3a;-webkit-text-stroke:0.35px #fff;">diskwrite</div>
<svg class="a" style="left:2292px;top:1570px;" width="34" height="34" viewBox="0 0 34 34"><rect x="0" y="0" width="33" height="33" fill="#f0f3f7"/><circle cx="16" cy="15.5" r="15" fill="none" stroke="#cbdaed" stroke-width="1.7"/><path d="M4.5,15.5 H27.5" stroke="#cbdaed" stroke-width="1.7"/></svg>
<svg class="a" style="left:909px;top:1622px;overflow:hidden" width="1434" height="146" viewBox="0 0 1434 146" font-family="Liberation Sans" font-size="26" fill="#111" stroke="none"><line x1="88.2" y1="20.5" x2="1417.0" y2="20.5" stroke="#dadada" stroke-width="2"/>
<line x1="88.2" y1="61.6" x2="1417.0" y2="61.6" stroke="#dadada" stroke-width="2"/>
<line x1="88.2" y1="102.7" x2="1417.0" y2="102.7" stroke="#dadada" stroke-width="2"/>
<line x1="88.2" y1="143.8" x2="1417.0" y2="143.8" stroke="#dadada" stroke-width="2"/>
<line x1="146.8" y1="20.5" x2="146.8" y2="472.6" stroke="#dadada" stroke-width="2"/>
<line x1="243.0" y1="20.5" x2="243.0" y2="472.6" stroke="#dadada" stroke-width="2"/>
<line x1="339.3" y1="20.5" x2="339.3" y2="472.6" stroke="#dadada" stroke-width="2"/>
<line x1="435.5" y1="20.5" x2="435.5" y2="472.6" stroke="#dadada" stroke-width="2"/>
<line x1="531.8" y1="20.5" x2="531.8" y2="472.6" stroke="#dadada" stroke-width="2"/>
<line x1="628.0" y1="20.5" x2="628.0" y2="472.6" stroke="#dadada" stroke-width="2"/>
<line x1="724.3" y1="20.5" x2="724.3" y2="472.6" stroke="#dadada" stroke-width="2"/>
<line x1="820.5" y1="20.5" x2="820.5" y2="472.6" stroke="#dadada" stroke-width="2"/>
<line x1="916.8" y1="20.5" x2="916.8" y2="472.6" stroke="#dadada" stroke-width="2"/>
<line x1="1013.0" y1="20.5" x2="1013.0" y2="472.6" stroke="#dadada" stroke-width="2"/>
<line x1="1109.3" y1="20.5" x2="1109.3" y2="472.6" stroke="#dadada" stroke-width="2"/>
<line x1="1205.6" y1="20.5" x2="1205.6" y2="472.6" stroke="#dadada" stroke-width="2"/>
<line x1="1301.8" y1="20.5" x2="1301.8" y2="472.6" stroke="#dadada" stroke-width="2"/>
<line x1="1398.1" y1="20.5" x2="1398.1" y2="472.6" stroke="#dadada" stroke-width="2"/>
<line x1="1417.0" y1="20.5" x2="1417.0" y2="472.6" stroke="#dadada" stroke-width="2"/>
<polygon points="88.2,472.6 88.2,472.0 1081.0,472.0 1109.3,472.0 1128.5,123.7 1148.2,216.0 1167.7,92.8 1186.9,302.0 1206.1,278.0 1225.3,191.4 1244.4,87.9 1264.2,115.2 1283.4,196.6 1302.3,188.0 1321.5,24.1 1340.2,103.3 1359.4,146.8 1379.6,190.7 1398.8,108.2 1417.0,132.0 1417.0,472.6" fill="rgba(43,93,163,0.6)"/>
<polyline points="88.2,472.0 1081.0,472.0 1109.3,472.0 1128.5,123.7 1148.2,216.0 1167.7,92.8 1186.9,302.0 1206.1,278.0 1225.3,191.4 1244.4,87.9 1264.2,115.2 1283.4,196.6 1302.3,188.0 1321.5,24.1 1340.2,103.3 1359.4,146.8 1379.6,190.7 1398.8,108.2 1417.0,132.0" fill="none" stroke="#415f8c" stroke-width="2.2" stroke-linejoin="round"/>
<line x1="88.2" y1="19.5" x2="88.2" y2="473.8" stroke="#000" stroke-width="2.6"/>
<line x1="87.2" y1="472.6" x2="1417.0" y2="472.6" stroke="#000" stroke-width="2.6"/>
<line x1="79.2" y1="20.5" x2="88.2" y2="20.5" stroke="#000" stroke-width="2.2"/>
<text x="48.0" y="27.8" text-anchor="middle" stroke="#fff" stroke-width="0.35">11 k</text>
<line x1="79.2" y1="61.6" x2="88.2" y2="61.6" stroke="#000" stroke-width="2.2"/>
<text x="48.0" y="68.9" text-anchor="middle" stroke="#fff" stroke-width="0.35">10 k</text>
<line x1="79.2" y1="102.7" x2="88.2" y2="102.7" stroke="#000" stroke-width="2.2"/>
<text x="48.0" y="110.0" text-anchor="middle" stroke="#fff" stroke-width="0.35">9 k</text>
<line x1="79.2" y1="143.8" x2="88.2" y2="143.8" stroke="#000" stroke-width="2.2"/>
<text x="48.0" y="151.1" text-anchor="middle" stroke="#fff" stroke-width="0.35">8 k</text>
<line x1="88.2" y1="472.6" x2="88.2" y2="481.6" stroke="#000" stroke-width="2.2"/>
<line x1="146.8" y1="472.6" x2="146.8" y2="481.6" stroke="#000" stroke-width="2.2"/>
<line x1="243.0" y1="472.6" x2="243.0" y2="481.6" stroke="#000" stroke-width="2.2"/>
<line x1="339.3" y1="472.6" x2="339.3" y2="481.6" stroke="#000" stroke-width="2.2"/>
<line x1="435.5" y1="472.6" x2="435.5" y2="481.6" stroke="#000" stroke-width="2.2"/>
<line x1="531.8" y1="472.6" x2="531.8" y2="481.6" stroke="#000" stroke-width="2.2"/>
<line x1="628.0" y1="472.6" x2="628.0" y2="481.6" stroke="#000" stroke-width="2.2"/>
<line x1="724.3" y1="472.6" x2="724.3" y2="481.6" stroke="#000" stroke-width="2.2"/>
<line x1="820.5" y1="472.6" x2="820.5" y2="481.6" stroke="#000" stroke-width="2.2"/>
<line x1="916.8" y1="472.6" x2="916.8" y2="481.6" stroke="#000" stroke-width="2.2"/>
<line x1="1013.0" y1="472.6" x2="1013.0" y2="481.6" stroke="#000" stroke-width="2.2"/>
<line x1="1109.3" y1="472.6" x2="1109.3" y2="481.6" stroke="#000" stroke-width="2.2"/>
<line x1="1205.6" y1="472.6" x2="1205.6" y2="481.6" stroke="#000" stroke-width="2.2"/>
<line x1="1301.8" y1="472.6" x2="1301.8" y2="481.6" stroke="#000" stroke-width="2.2"/>
<line x1="1398.1" y1="472.6" x2="1398.1" y2="481.6" stroke="#000" stroke-width="2.2"/>
<line x1="1417.0" y1="472.6" x2="1417.0" y2="481.6" stroke="#000" stroke-width="2.2"/>
<text transform="translate(21.0,246.5) rotate(-90)" text-anchor="middle" stroke="#fff" stroke-width="0.35"></text>
</svg>
<div class="a" style="left:0px;top:1768px;width:3827px;height:10px;background:#d0d0d0"></div>
<div class="a" style="left:1867px;top:1768px;width:96px;height:10px;background:#dedede"></div>
<svg class="a" style="left:1906px;top:1770px;" width="20" height="8" viewBox="0 0 20 8"><path d="M1,1 H19 L10,7.5 Z" fill="#c2c2c2"/></svg>
<div class="a" style="left:5px;top:1778px;width:3819.5px;height:392px;background:#fff"></div>
<div class="a" style="left:5px;top:1778px;width:3819.5px;height:70.5px;background:#f4f4f4"></div>
<div class="a" style="left:5px;top:1848.4px;width:3819.5px;height:2px;background:#cdcdcd"></div>
<div class="a" style="left:27px;top:1790px;width:93px;height:46px;background:#5290d0;border-radius:4px"></div>
<div class="t" style="left:41.5px;top:1801.0px;font-size:26px;line-height:26px;color:#fff;-webkit-text-stroke:0.35px #5290d0;">Tasks</div>
<div class="t" style="left:155px;top:1801.0px;font-size:26px;line-height:26px;color:#111;-webkit-text-stroke:0.35px #f4f4f4;">Cluster log</div>
<div class="a" style="left:5px;top:1850px;width:2px;height:320px;background:#cdcdcd"></div>
<div class="a" style="left:3821.5px;top:1850px;width:3px;height:320px;background:#cdcdcd"></div>
<div class="a" style="left:7px;top:1850px;width:298px;height:58px;background:#eef4fa"></div>
<div class="a" style="left:5px;top:1908.2px;width:3819.5px;height:2px;background:#cdcdcd"></div>
<div class="a" style="left:304px;top:1850px;width:2px;height:58.2px;background:#cdcdcd"></div>
<div class="a" style="left:604.5px;top:1850px;width:2px;height:58.2px;background:#cdcdcd"></div>
<div class="a" style="left:804.5px;top:1850px;width:2px;height:58.2px;background:#cdcdcd"></div>
<div class="a" style="left:1104.8px;top:1850px;width:2px;height:58.2px;background:#cdcdcd"></div>
<div class="a" style="left:3420px;top:1850px;width:2px;height:58.2px;background:#cdcdcd"></div>
<div class="t" style="left:28.2px;top:1865.7px;font-size:26px;line-height:26px;color:#6e6e6e;-webkit-text-stroke:0.35px #eef4fa;">Start Time</div>
<div class="t" style="left:327.6px;top:1865.7px;font-size:26px;line-height:26px;color:#6e6e6e;-webkit-text-stroke:0.35px #fff;">End Time</div>
<div class="t" style="left:627.8px;top:1865.7px;font-size:26px;line-height:26px;color:#6e6e6e;-webkit-text-stroke:0.35px #fff;">Node</div>
<div class="t" style="left:827.3px;top:1865.7px;font-size:26px;line-height:26px;color:#6e6e6e;-webkit-text-stroke:0.35px #fff;">User name</div>
<div class="t" style="left:1127.6px;top:1865.7px;font-size:26px;line-height:26px;color:#6e6e6e;-webkit-text-stroke:0.35px #fff;">Description</div>
<div class="t" style="left:3443.6px;top:1865.7px;font-size:26px;line-height:26px;color:#6e6e6e;-webkit-text-stroke:0.35px #fff;">Status</div>
<svg class="a" style="left:149px;top:1866px;" width="24" height="30" viewBox="0 0 24 30"><path d="M11.2,1 V26" stroke="#b0b0b0" stroke-width="2"/><path d="M3,18 L11.2,26.5 L19.4,18" fill="none" stroke="#b0b0b0" stroke-width="2"/></svg>
<div class="a" style="left:7px;top:1960.05px;width:3814.5px;height:50.05px;background:#f9f9f9"></div>
<div class="a" style="left:7px;top:2060.15px;width:3814.5px;height:50.05px;background:#f9f9f9"></div>
<div class="a" style="left:7px;top:2160.25px;width:3814.5px;height:50.05px;background:#f9f9f9"></div>
<div class="a" style="left:7px;top:1959.55px;width:3814.5px;height:2px;background:#d2d2d2"></div>
<div class="a" style="left:7px;top:2009.6px;width:3814.5px;height:2px;background:#d2d2d2"></div>
<div class="a" style="left:7px;top:2059.65px;width:3814.5px;height:2px;background:#d2d2d2"></div>
<div class="a" style="left:7px;top:2109.7000000000003px;width:3814.5px;height:2px;background:#d2d2d2"></div>
<div class="a" style="left:7px;top:2159.75px;width:3814.5px;height:2px;background:#d2d2d2"></div>
<div class="a" style="left:7px;top:2209.8px;width:3814.5px;height:2px;background:#d2d2d2"></div>
<div class="t" style="left:27.3px;top:1924.2px;font-size:26px;line-height:26px;color:#111;-webkit-text-stroke:0.35px #fff;">Mar 30 12:22:20</div>
<div class="t" style="left:327.6px;top:1924.2px;font-size:26px;line-height:26px;color:#111;-webkit-text-stroke:0.35px #fff;">Mar 30 12:22:20</div>
<div class="t" style="left:627.8px;top:1924.2px;font-size:26px;line-height:26px;color:#111;-webkit-text-stroke:0.35px #fff;">pve</div>
<div class="t" style="left:827.3px;top:1924.2px;font-size:26px;line-height:26px;color:#111;-webkit-text-stroke:0.35px #fff;">root@pam</div>
<div class="t" style="left:1127.6px;top:1924.2px;font-size:26px;line-height:26px;color:#111;-webkit-text-stroke:0.35px #fff;">CT 104 - Destroy</div>
<div class="t" style="left:3443.6px;top:1924.2px;font-size:26px;line-height:26px;color:#111;-webkit-text-stroke:0.35px #fff;">OK</div>
<div class="t" style="left:27.3px;top:1974.2px;font-size:26px;line-height:26px;color:#111;-webkit-text-stroke:0.35px #f9f9f9;">Mar 30 12:21:52</div>
<div class="t" style="left:327.6px;top:1974.2px;font-size:26px;line-height:26px;color:#111;-webkit-text-stroke:0.35px #f9f9f9;">Mar 30 12:21:54</div>
<div class="t" style="left:627.8px;top:1974.2px;font-size:26px;line-height:26px;color:#111;-webkit-text-stroke:0.35px #f9f9f9;">pve</div>
<div class="t" style="left:827.3px;top:1974.2px;font-size:26px;line-height:26px;color:#111;-webkit-text-stroke:0.35px #f9f9f9;">root@pam</div>
<div class="t" style="left:1127.6px;top:1974.2px;font-size:26px;line-height:26px;color:#111;-webkit-text-stroke:0.35px #f9f9f9;">CT 104 - Stop</div>
<div class="t" style="left:3443.6px;top:1974.2px;font-size:26px;line-height:26px;color:#111;-webkit-text-stroke:0.35px #f9f9f9;">OK</div>
<div class="t" style="left:27.3px;top:2024.3px;font-size:26px;line-height:26px;color:#111;-webkit-text-stroke:0.35px #fff;">Mar 30 12:21:48</div>
<div class="t" style="left:327.6px;top:2024.3px;font-size:26px;line-height:26px;color:#111;-webkit-text-stroke:0.35px #fff;">Mar 30 12:21:54</div>
<div class="t" style="left:627.8px;top:2024.3px;font-size:26px;line-height:26px;color:#111;-webkit-text-stroke:0.35px #fff;">pve</div>
<div class="t" style="left:827.3px;top:2024.3px;font-size:26px;line-height:26px;color:#111;-webkit-text-stroke:0.35px #fff;">root@pam</div>
<div class="t" style="left:1127.6px;top:2024.3px;font-size:26px;line-height:26px;color:#111;-webkit-text-stroke:0.35px #fff;">VM/CT 104 - Console</div>
<div class="t" style="left:3443.6px;top:2024.3px;font-size:26px;line-height:26px;color:#111;-webkit-text-stroke:0.35px #fff;">OK</div>
<div class="t" style="left:27.3px;top:2074.3px;font-size:26px;line-height:26px;color:#111;-webkit-text-stroke:0.35px #f9f9f9;">Mar 30 12:20:34</div>
<div class="t" style="left:327.6px;top:2074.3px;font-size:26px;line-height:26px;color:#111;-webkit-text-stroke:0.35px #f9f9f9;">Mar 30 12:21:48</div>
<div class="t" style="left:627.8px;top:2074.3px;font-size:26px;line-height:26px;color:#111;-webkit-text-stroke:0.35px #f9f9f9;">pve</div>
<div class="t" style="left:827.3px;top:2074.3px;font-size:26px;line-height:26px;color:#111;-webkit-text-stroke:0.35px #f9f9f9;">root@pam</div>
<div class="t" style="left:1127.6px;top:2074.3px;font-size:26px;line-height:26px;color:#111;-webkit-text-stroke:0.35px #f9f9f9;">VM/CT 102 - Console</div>
<div class="t" style="left:3443.6px;top:2074.3px;font-size:26px;line-height:26px;color:#111;-webkit-text-stroke:0.35px #f9f9f9;">OK</div>
<div class="t" style="left:27.3px;top:2124.4px;font-size:26px;line-height:26px;color:#111;-webkit-text-stroke:0.35px #fff;">Mar 30 12:20:09</div>
<div class="t" style="left:327.6px;top:2124.4px;font-size:26px;line-height:26px;color:#111;-webkit-text-stroke:0.35px #fff;">Mar 30 12:20:34</div>
<div class="t" style="left:627.8px;top:2124.4px;font-size:26px;line-height:26px;color:#111;-webkit-text-stroke:0.35px #fff;">pve</div>
<div class="t" style="left:827.3px;top:2124.4px;font-size:26px;line-height:26px;color:#111;-webkit-text-stroke:0.35px #fff;">root@pam</div>
<div class="t" style="left:1127.6px;top:2124.4px;font-size:26px;line-height:26px;color:#111;-webkit-text-stroke:0.35px #fff;">VM/CT 104 - Console</div>
<div class="t" style="left:3443.6px;top:2124.4px;font-size:26px;line-height:26px;color:#111;-webkit-text-stroke:0.35px #fff;">OK</div>
</body></html>
